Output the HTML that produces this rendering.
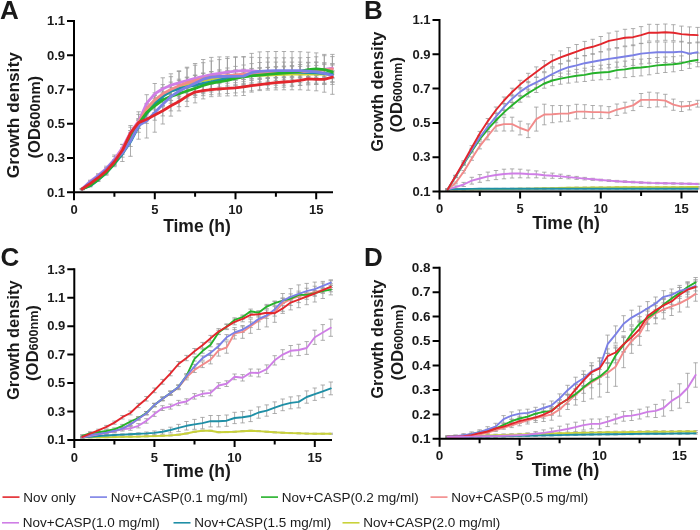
<!DOCTYPE html>
<html><head><meta charset="utf-8"><style>
html,body{margin:0;padding:0;background:#fff;width:700px;height:530px;overflow:hidden}
svg{display:block;will-change:transform}
.t{font-family:"Liberation Sans",sans-serif;font-weight:bold;fill:#1a1a1a}
.r{font-family:"Liberation Sans",sans-serif;fill:#1a1a1a}
</style></head><body>
<svg width="700" height="530" viewBox="0 0 700 530">
<text class="t" x="0" y="0"></text>
<g stroke="#999" stroke-width="0.8" fill="none"><path d="M82.1 188.5V189.6M79.9 188.5H84.3M79.9 189.6H84.3"/><path d="M90.2 184.2V185.7M88.0 184.2H92.4M88.0 185.7H92.4"/><path d="M98.2 177.9V179.9M96.0 177.9H100.4M96.0 179.9H100.4"/><path d="M106.3 170.9V173.3M104.1 170.9H108.5M104.1 173.3H108.5"/><path d="M114.4 161.5V164.5M112.2 161.5H116.6M112.2 164.5H116.6"/><path d="M122.4 149.8V153.2M120.2 149.8H124.6M120.2 153.2H124.6"/><path d="M130.5 132.8V137.1M128.3 132.8H132.7M128.3 137.1H132.7"/><path d="M138.6 120.4V125.5M136.4 120.4H140.8M136.4 125.5H140.8"/><path d="M146.7 107.1V113.1M144.5 107.1H148.9M144.5 113.1H148.9"/><path d="M154.8 98.1V104.9M152.6 98.1H156.9M152.6 104.9H156.9"/><path d="M162.8 92.1V98.9M160.6 92.1H165.0M160.6 98.9H165.0"/><path d="M170.9 87.8V94.7M168.7 87.8H173.1M168.7 94.7H173.1"/><path d="M179.0 84.4V91.2M176.8 84.4H181.2M176.8 91.2H181.2"/><path d="M187.0 81.5V88.3M184.8 81.5H189.2M184.8 88.3H189.2"/><path d="M195.1 79.0V85.9M192.9 79.0H197.3M192.9 85.9H197.3"/><path d="M203.2 77.1V83.9M201.0 77.1H205.4M201.0 83.9H205.4"/><path d="M211.3 75.6V82.5M209.1 75.6H213.5M209.1 82.5H213.5"/><path d="M219.3 74.7V81.5M217.2 74.7H221.5M217.2 81.5H221.5"/><path d="M227.4 73.9V80.7M225.2 73.9H229.6M225.2 80.7H229.6"/><path d="M235.5 73.2V80.1M233.3 73.2H237.7M233.3 80.1H237.7"/><path d="M243.6 72.7V79.6M241.4 72.7H245.8M241.4 79.6H245.8"/><path d="M251.6 72.2V79.1M249.4 72.2H253.8M249.4 79.1H253.8"/><path d="M259.7 71.9V78.7M257.5 71.9H261.9M257.5 78.7H261.9"/><path d="M267.8 71.5V78.4M265.6 71.5H270.0M265.6 78.4H270.0"/><path d="M275.9 71.2V78.1M273.7 71.2H278.1M273.7 78.1H278.1"/><path d="M283.9 71.0V77.8M281.8 71.0H286.1M281.8 77.8H286.1"/><path d="M292.0 70.8V77.6M289.8 70.8H294.2M289.8 77.6H294.2"/><path d="M300.1 70.7V77.5M297.9 70.7H302.3M297.9 77.5H302.3"/><path d="M308.2 70.7V77.5M306.0 70.7H310.4M306.0 77.5H310.4"/><path d="M316.2 70.7V77.5M314.1 70.7H318.4M314.1 77.5H318.4"/><path d="M324.3 70.7V77.5M322.1 70.7H326.5M322.1 77.5H326.5"/><path d="M332.4 70.7V77.5M330.2 70.7H334.6M330.2 77.5H334.6"/><path d="M82.1 188.5V189.6M79.9 188.5H84.3M79.9 189.6H84.3"/><path d="M90.2 184.7V186.9M88.0 184.7H92.4M88.0 186.9H92.4"/><path d="M98.2 178.1V181.5M96.0 178.1H100.4M96.0 181.5H100.4"/><path d="M106.3 170.7V175.2M104.1 170.7H108.5M104.1 175.2H108.5"/><path d="M114.4 161.0V166.7M112.2 161.0H116.6M112.2 166.7H116.6"/><path d="M122.4 150.3V157.2M120.2 150.3H124.6M120.2 157.2H124.6"/><path d="M130.5 137.1V146.5M128.3 137.1H132.7M128.3 146.5H132.7"/><path d="M138.6 120.4V132.3M136.4 120.4H140.8M136.4 132.3H140.8"/><path d="M146.7 106.2V120.8M144.5 106.2H148.9M144.5 120.8H148.9"/><path d="M154.8 95.5V112.6M152.6 95.5H156.9M152.6 112.6H156.9"/><path d="M162.8 87.5V105.2M160.6 87.5H165.0M160.6 105.2H165.0"/><path d="M170.9 82.1V100.4M168.7 82.1H173.1M168.7 100.4H173.1"/><path d="M179.0 79.2V98.1M176.8 79.2H181.2M176.8 98.1H181.2"/><path d="M187.0 77.1V96.5M184.8 77.1H189.2M184.8 96.5H189.2"/><path d="M195.1 75.1V95.1M192.9 75.1H197.3M192.9 95.1H197.3"/><path d="M203.2 73.1V93.7M201.0 73.1H205.4M201.0 93.7H205.4"/><path d="M211.3 71.5V92.0M209.1 71.5H213.5M209.1 92.0H213.5"/><path d="M219.3 69.8V90.3M217.2 69.8H221.5M217.2 90.3H221.5"/><path d="M227.4 68.0V88.5M225.2 68.0H229.6M225.2 88.5H229.6"/><path d="M235.5 66.4V87.0M233.3 66.4H237.7M233.3 87.0H237.7"/><path d="M243.6 65.0V85.5M241.4 65.0H245.8M241.4 85.5H245.8"/><path d="M251.6 63.6V84.1M249.4 63.6H253.8M249.4 84.1H253.8"/><path d="M259.7 62.5V83.1M257.5 62.5H261.9M257.5 83.1H261.9"/><path d="M267.8 62.1V82.7M265.6 62.1H270.0M265.6 82.7H270.0"/><path d="M275.9 62.1V82.7M273.7 62.1H278.1M273.7 82.7H278.1"/><path d="M283.9 62.1V82.7M281.8 62.1H286.1M281.8 82.7H286.1"/><path d="M292.0 62.1V82.7M289.8 62.1H294.2M289.8 82.7H294.2"/><path d="M300.1 62.1V82.7M297.9 62.1H302.3M297.9 82.7H302.3"/><path d="M308.2 62.3V82.8M306.0 62.3H310.4M306.0 82.8H310.4"/><path d="M316.2 62.6V83.2M314.1 62.6H318.4M314.1 83.2H318.4"/><path d="M324.3 63.2V83.8M322.1 63.2H326.5M322.1 83.8H326.5"/><path d="M332.4 63.8V84.4M330.2 63.8H334.6M330.2 84.4H334.6"/><path d="M82.1 188.5V189.6M79.9 188.5H84.3M79.9 189.6H84.3"/><path d="M90.2 180.2V182.4M88.0 180.2H92.4M88.0 182.4H92.4"/><path d="M98.2 173.7V177.0M96.0 173.7H100.4M96.0 177.0H100.4"/><path d="M106.3 166.2V170.8M104.1 166.2H108.5M104.1 170.8H108.5"/><path d="M114.4 156.6V162.3M112.2 156.6H116.6M112.2 162.3H116.6"/><path d="M122.4 144.5V151.4M120.2 144.5H124.6M120.2 151.4H124.6"/><path d="M130.5 127.2V137.5M128.3 127.2H132.7M128.3 137.5H132.7"/><path d="M138.6 114.4V128.1M136.4 114.4H140.8M136.4 128.1H140.8"/><path d="M146.7 94.7V111.8M144.5 94.7H148.9M144.5 111.8H148.9"/><path d="M154.8 83.5V104.1M152.6 83.5H156.9M152.6 104.1H156.9"/><path d="M162.8 77.8V99.5M160.6 77.8H165.0M160.6 99.5H165.0"/><path d="M170.9 73.8V96.7M168.7 73.8H173.1M168.7 96.7H173.1"/><path d="M179.0 70.8V94.8M176.8 70.8H181.2M176.8 94.8H181.2"/><path d="M187.0 68.0V93.1M184.8 68.0H189.2M184.8 93.1H189.2"/><path d="M195.1 65.2V91.5M192.9 65.2H197.3M192.9 91.5H197.3"/><path d="M203.2 62.7V90.1M201.0 62.7H205.4M201.0 90.1H205.4"/><path d="M211.3 61.0V88.4M209.1 61.0H213.5M209.1 88.4H213.5"/><path d="M219.3 59.6V87.0M217.2 59.6H221.5M217.2 87.0H221.5"/><path d="M227.4 58.5V85.9M225.2 58.5H229.6M225.2 85.9H229.6"/><path d="M235.5 57.3V84.8M233.3 57.3H237.7M233.3 84.8H237.7"/><path d="M243.6 57.0V84.4M241.4 57.0H245.8M241.4 84.4H245.8"/><path d="M251.6 57.3V84.7M249.4 57.3H253.8M249.4 84.7H253.8"/><path d="M259.7 57.6V85.0M257.5 57.6H261.9M257.5 85.0H261.9"/><path d="M267.8 57.8V85.2M265.6 57.8H270.0M265.6 85.2H270.0"/><path d="M275.9 57.8V85.2M273.7 57.8H278.1M273.7 85.2H278.1"/><path d="M283.9 57.8V85.2M281.8 57.8H286.1M281.8 85.2H286.1"/><path d="M292.0 57.8V85.2M289.8 57.8H294.2M289.8 85.2H294.2"/><path d="M300.1 57.8V85.2M297.9 57.8H302.3M297.9 85.2H302.3"/><path d="M308.2 57.5V84.9M306.0 57.5H310.4M306.0 84.9H310.4"/><path d="M316.2 56.8V84.2M314.1 56.8H318.4M314.1 84.2H318.4"/><path d="M324.3 55.7V83.1M322.1 55.7H326.5M322.1 83.1H326.5"/><path d="M332.4 54.4V81.8M330.2 54.4H334.6M330.2 81.8H334.6"/><path d="M82.1 188.5V189.6M79.9 188.5H84.3M79.9 189.6H84.3"/><path d="M90.2 182.1V183.6M88.0 182.1H92.4M88.0 183.6H92.4"/><path d="M98.2 175.9V177.9M96.0 175.9H100.4M96.0 177.9H100.4"/><path d="M106.3 168.8V171.3M104.1 168.8H108.5M104.1 171.3H108.5"/><path d="M114.4 159.5V162.4M112.2 159.5H116.6M112.2 162.4H116.6"/><path d="M122.4 147.8V151.2M120.2 147.8H124.6M120.2 151.2H124.6"/><path d="M130.5 130.6V135.8M128.3 130.6H132.7M128.3 135.8H132.7"/><path d="M138.6 118.6V125.5M136.4 118.6H140.8M136.4 125.5H140.8"/><path d="M146.7 104.1V112.6M144.5 104.1H148.9M144.5 112.6H148.9"/><path d="M154.8 94.7V104.9M152.6 94.7H156.9M152.6 104.9H156.9"/><path d="M162.8 88.7V98.9M160.6 88.7H165.0M160.6 98.9H165.0"/><path d="M170.9 84.4V94.7M168.7 84.4H173.1M168.7 94.7H173.1"/><path d="M179.0 80.6V90.9M176.8 80.6H181.2M176.8 90.9H181.2"/><path d="M187.0 77.8V88.0M184.8 77.8H189.2M184.8 88.0H189.2"/><path d="M195.1 75.4V85.7M192.9 75.4H197.3M192.9 85.7H197.3"/><path d="M203.2 73.3V83.6M201.0 73.3H205.4M201.0 83.6H205.4"/><path d="M211.3 71.9V82.2M209.1 71.9H213.5M209.1 82.2H213.5"/><path d="M219.3 71.1V81.3M217.2 71.1H221.5M217.2 81.3H221.5"/><path d="M227.4 70.4V80.7M225.2 70.4H229.6M225.2 80.7H229.6"/><path d="M235.5 69.8V80.1M233.3 69.8H237.7M233.3 80.1H237.7"/><path d="M243.6 69.1V79.4M241.4 69.1H245.8M241.4 79.4H245.8"/><path d="M251.6 68.4V78.6M249.4 68.4H253.8M249.4 78.6H253.8"/><path d="M259.7 67.7V78.0M257.5 67.7H261.9M257.5 78.0H261.9"/><path d="M267.8 67.3V77.5M265.6 67.3H270.0M265.6 77.5H270.0"/><path d="M275.9 67.0V77.3M273.7 67.0H278.1M273.7 77.3H278.1"/><path d="M283.9 66.8V77.1M281.8 66.8H286.1M281.8 77.1H286.1"/><path d="M292.0 66.6V76.9M289.8 66.6H294.2M289.8 76.9H294.2"/><path d="M300.1 66.4V76.7M297.9 66.4H302.3M297.9 76.7H302.3"/><path d="M308.2 66.0V76.3M306.0 66.0H310.4M306.0 76.3H310.4"/><path d="M316.2 65.4V75.7M314.1 65.4H318.4M314.1 75.7H318.4"/><path d="M324.3 64.6V74.9M322.1 64.6H326.5M322.1 74.9H326.5"/><path d="M332.4 63.8V74.1M330.2 63.8H334.6M330.2 74.1H334.6"/><path d="M82.1 188.5V189.6M79.9 188.5H84.3M79.9 189.6H84.3"/><path d="M90.2 184.5V186.4M88.0 184.5H92.4M88.0 186.4H92.4"/><path d="M98.2 178.1V180.8M96.0 178.1H100.4M96.0 180.8H100.4"/><path d="M106.3 170.9V174.3M104.1 170.9H108.5M104.1 174.3H108.5"/><path d="M114.4 161.4V165.7M112.2 161.4H116.6M112.2 165.7H116.6"/><path d="M122.4 149.5V154.6M120.2 149.5H124.6M120.2 154.6H124.6"/><path d="M130.5 133.0V140.3M128.3 133.0H132.7M128.3 140.3H132.7"/><path d="M138.6 119.1V128.5M136.4 119.1H140.8M136.4 128.5H140.8"/><path d="M146.7 106.7V118.3M144.5 106.7H148.9M144.5 118.3H148.9"/><path d="M154.8 98.9V112.6M152.6 98.9H156.9M152.6 112.6H156.9"/><path d="M162.8 93.1V106.8M160.6 93.1H165.0M160.6 106.8H165.0"/><path d="M170.9 89.5V103.2M168.7 89.5H173.1M168.7 103.2H173.1"/><path d="M179.0 86.8V100.5M176.8 86.8H181.2M176.8 100.5H181.2"/><path d="M187.0 84.2V97.9M184.8 84.2H189.2M184.8 97.9H189.2"/><path d="M195.1 81.5V95.2M192.9 81.5H197.3M192.9 95.2H197.3"/><path d="M203.2 78.7V92.4M201.0 78.7H205.4M201.0 92.4H205.4"/><path d="M211.3 76.4V90.1M209.1 76.4H213.5M209.1 90.1H213.5"/><path d="M219.3 75.0V88.7M217.2 75.0H221.5M217.2 88.7H221.5"/><path d="M227.4 73.6V87.3M225.2 73.6H229.6M225.2 87.3H229.6"/><path d="M235.5 71.6V85.3M233.3 71.6H237.7M233.3 85.3H237.7"/><path d="M243.6 70.0V83.7M241.4 70.0H245.8M241.4 83.7H245.8"/><path d="M251.6 69.1V82.8M249.4 69.1H253.8M249.4 82.8H253.8"/><path d="M259.7 68.2V81.9M257.5 68.2H261.9M257.5 81.9H261.9"/><path d="M267.8 67.5V81.2M265.6 67.5H270.0M265.6 81.2H270.0"/><path d="M275.9 66.7V80.4M273.7 66.7H278.1M273.7 80.4H278.1"/><path d="M283.9 66.1V79.8M281.8 66.1H286.1M281.8 79.8H286.1"/><path d="M292.0 65.5V79.2M289.8 65.5H294.2M289.8 79.2H294.2"/><path d="M300.1 64.5V78.2M297.9 64.5H302.3M297.9 78.2H302.3"/><path d="M308.2 62.8V76.5M306.0 62.8H310.4M306.0 76.5H310.4"/><path d="M316.2 61.9V75.7M314.1 61.9H318.4M314.1 75.7H318.4"/><path d="M324.3 62.8V76.5M322.1 62.8H326.5M322.1 76.5H326.5"/><path d="M332.4 65.0V78.7M330.2 65.0H334.6M330.2 78.7H334.6"/><path d="M82.1 188.4V189.7M79.9 188.4H84.3M79.9 189.7H84.3"/><path d="M90.2 181.0V183.0M88.0 181.0H92.4M88.0 183.0H92.4"/><path d="M98.2 174.7V177.4M96.0 174.7H100.4M96.0 177.4H100.4"/><path d="M106.3 167.5V170.9M104.1 167.5H108.5M104.1 170.9H108.5"/><path d="M114.4 155.0V165.2M112.2 155.0H116.6M112.2 165.2H116.6"/><path d="M122.4 144.3V161.5M120.2 144.3H124.6M120.2 161.5H124.6"/><path d="M130.5 125.5V156.3M128.3 125.5H132.7M128.3 156.3H132.7"/><path d="M138.6 111.8V139.2M136.4 111.8H140.8M136.4 139.2H140.8"/><path d="M146.7 103.7V138.0M144.5 103.7H148.9M144.5 138.0H148.9"/><path d="M154.8 92.8V132.2M152.6 92.8H156.9M152.6 132.2H156.9"/><path d="M162.8 84.6V124.0M160.6 84.6H165.0M160.6 124.0H165.0"/><path d="M170.9 76.7V116.1M168.7 76.7H173.1M168.7 116.1H173.1"/><path d="M179.0 71.5V110.9M176.8 71.5H181.2M176.8 110.9H181.2"/><path d="M187.0 67.2V106.6M184.8 67.2H189.2M184.8 106.6H189.2"/><path d="M195.1 63.5V102.9M192.9 63.5H197.3M192.9 102.9H197.3"/><path d="M203.2 59.5V98.9M201.0 59.5H205.4M201.0 98.9H205.4"/><path d="M211.3 57.4V96.7M209.1 57.4H213.5M209.1 96.7H213.5"/><path d="M219.3 56.9V96.1M217.2 56.9H221.5M217.2 96.1H221.5"/><path d="M227.4 56.8V95.9M225.2 56.8H229.6M225.2 95.9H229.6"/><path d="M235.5 56.8V95.8M233.3 56.8H237.7M233.3 95.8H237.7"/><path d="M243.6 56.6V95.5M241.4 56.6H245.8M241.4 95.5H245.8"/><path d="M251.6 53.4V92.1M249.4 53.4H253.8M249.4 92.1H253.8"/><path d="M259.7 51.9V90.6M257.5 51.9H261.9M257.5 90.6H261.9"/><path d="M267.8 51.6V90.1M265.6 51.6H270.0M265.6 90.1H270.0"/><path d="M275.9 51.5V89.9M273.7 51.5H278.1M273.7 89.9H278.1"/><path d="M283.9 51.5V89.8M281.8 51.5H286.1M281.8 89.8H286.1"/><path d="M292.0 51.6V89.8M289.8 51.6H294.2M289.8 89.8H294.2"/><path d="M300.1 51.7V89.8M297.9 51.7H302.3M297.9 89.8H302.3"/><path d="M308.2 52.2V90.2M306.0 52.2H310.4M306.0 90.2H310.4"/><path d="M316.2 52.9V90.8M314.1 52.9H318.4M314.1 90.8H318.4"/><path d="M324.3 54.4V92.2M322.1 54.4H326.5M322.1 92.2H326.5"/><path d="M332.4 56.6V94.3M330.2 56.6H334.6M330.2 94.3H334.6"/><path d="M82.1 188.5V189.6M79.9 188.5H84.3M79.9 189.6H84.3"/><path d="M90.2 183.0V184.5M88.0 183.0H92.4M88.0 184.5H92.4"/><path d="M98.2 176.7V178.7M96.0 176.7H100.4M96.0 178.7H100.4"/><path d="M106.3 169.7V172.1M104.1 169.7H108.5M104.1 172.1H108.5"/><path d="M114.4 160.3V163.3M112.2 160.3H116.6M112.2 163.3H116.6"/><path d="M122.4 148.6V152.0M120.2 148.6H124.6M120.2 152.0H124.6"/><path d="M130.5 130.6V135.8M128.3 130.6H132.7M128.3 135.8H132.7"/><path d="M138.6 119.2V126.0M136.4 119.2H140.8M136.4 126.0H140.8"/><path d="M146.7 114.9V123.4M144.5 114.9H148.9M144.5 123.4H148.9"/><path d="M154.8 109.9V120.2M152.6 109.9H156.9M152.6 120.2H156.9"/><path d="M162.8 105.6V115.9M160.6 105.6H165.0M160.6 115.9H165.0"/><path d="M170.9 100.7V110.9M168.7 100.7H173.1M168.7 110.9H173.1"/><path d="M179.0 96.4V106.7M176.8 96.4H181.2M176.8 106.7H181.2"/><path d="M187.0 91.0V101.3M184.8 91.0H189.2M184.8 101.3H189.2"/><path d="M195.1 87.0V97.3M192.9 87.0H197.3M192.9 97.3H197.3"/><path d="M203.2 85.4V95.7M201.0 85.4H205.4M201.0 95.7H205.4"/><path d="M211.3 84.4V94.7M209.1 84.4H213.5M209.1 94.7H213.5"/><path d="M219.3 83.7V94.0M217.2 83.7H221.5M217.2 94.0H221.5"/><path d="M227.4 83.2V93.5M225.2 83.2H229.6M225.2 93.5H229.6"/><path d="M235.5 82.7V92.9M233.3 82.7H237.7M233.3 92.9H237.7"/><path d="M243.6 81.7V92.0M241.4 81.7H245.8M241.4 92.0H245.8"/><path d="M251.6 80.5V90.8M249.4 80.5H253.8M249.4 90.8H253.8"/><path d="M259.7 79.5V89.7M257.5 79.5H261.9M257.5 89.7H261.9"/><path d="M267.8 78.4V88.7M265.6 78.4H270.0M265.6 88.7H270.0"/><path d="M275.9 77.5V87.8M273.7 77.5H278.1M273.7 87.8H278.1"/><path d="M283.9 76.9V87.2M281.8 76.9H286.1M281.8 87.2H286.1"/><path d="M292.0 76.3V86.6M289.8 76.3H294.2M289.8 86.6H294.2"/><path d="M300.1 75.2V85.5M297.9 75.2H302.3M297.9 85.5H302.3"/><path d="M308.2 73.8V84.0M306.0 73.8H310.4M306.0 84.0H310.4"/><path d="M316.2 74.2V84.5M314.1 74.2H318.4M314.1 84.5H318.4"/><path d="M324.3 74.2V84.5M322.1 74.2H326.5M322.1 84.5H326.5"/><path d="M332.4 72.0V82.3M330.2 72.0H334.6M330.2 82.3H334.6"/></g>
<path d="M82.1 189.0 L90.2 184.9 L98.2 178.9 L106.3 172.1 L114.4 163.0 L122.4 151.5 L130.5 134.9 L138.6 122.9 L146.7 110.1 L154.8 101.5 L162.8 95.5 L170.9 91.2 L179.0 87.8 L187.0 84.9 L195.1 82.5 L203.2 80.5 L211.3 79.1 L219.3 78.1 L227.4 77.3 L235.5 76.7 L243.6 76.1 L251.6 75.7 L259.7 75.3 L267.8 75.0 L275.9 74.7 L283.9 74.4 L292.0 74.2 L300.1 74.1 L308.2 74.1 L316.2 74.1 L324.3 74.1 L332.4 74.1" stroke="#c9d23a" stroke-width="2.8" fill="none" stroke-linejoin="round" stroke-linecap="round"/>
<path d="M82.1 189.0 L90.2 185.8 L98.2 179.8 L106.3 172.9 L114.4 163.9 L122.4 153.8 L130.5 141.8 L138.6 126.3 L146.7 113.5 L154.8 104.1 L162.8 96.4 L170.9 91.2 L179.0 88.7 L187.0 86.8 L195.1 85.1 L203.2 83.4 L211.3 81.8 L219.3 80.0 L227.4 78.2 L235.5 76.7 L243.6 75.3 L251.6 73.9 L259.7 72.8 L267.8 72.4 L275.9 72.4 L283.9 72.4 L292.0 72.4 L300.1 72.4 L308.2 72.5 L316.2 72.9 L324.3 73.5 L332.4 74.1" stroke="#1f8fa6" stroke-width="2.8" fill="none" stroke-linejoin="round" stroke-linecap="round"/>
<path d="M82.1 189.0 L90.2 181.3 L98.2 175.3 L106.3 168.5 L114.4 159.4 L122.4 147.9 L130.5 132.3 L138.6 121.2 L146.7 103.2 L154.8 93.8 L162.8 88.7 L170.9 85.2 L179.0 82.8 L187.0 80.5 L195.1 78.4 L203.2 76.4 L211.3 74.7 L219.3 73.3 L227.4 72.2 L235.5 71.1 L243.6 70.7 L251.6 71.0 L259.7 71.3 L267.8 71.5 L275.9 71.5 L283.9 71.5 L292.0 71.5 L300.1 71.5 L308.2 71.2 L316.2 70.5 L324.3 69.4 L332.4 68.1" stroke="#cf7ee6" stroke-width="2.8" fill="none" stroke-linejoin="round" stroke-linecap="round"/>
<path d="M82.1 189.0 L90.2 182.9 L98.2 176.9 L106.3 170.0 L114.4 161.0 L122.4 149.5 L130.5 133.2 L138.6 122.1 L146.7 108.4 L154.8 99.8 L162.8 93.8 L170.9 89.5 L179.0 85.8 L187.0 82.9 L195.1 80.6 L203.2 78.5 L211.3 77.0 L219.3 76.2 L227.4 75.6 L235.5 75.0 L243.6 74.2 L251.6 73.5 L259.7 72.8 L267.8 72.4 L275.9 72.1 L283.9 72.0 L292.0 71.8 L300.1 71.5 L308.2 71.1 L316.2 70.5 L324.3 69.8 L332.4 69.0" stroke="#f28a8a" stroke-width="2.8" fill="none" stroke-linejoin="round" stroke-linecap="round"/>
<path d="M82.1 189.0 L90.2 185.4 L98.2 179.5 L106.3 172.6 L114.4 163.5 L122.4 152.0 L130.5 136.6 L138.6 123.8 L146.7 112.5 L154.8 105.8 L162.8 100.0 L170.9 96.4 L179.0 93.6 L187.0 91.0 L195.1 88.4 L203.2 85.5 L211.3 83.2 L219.3 81.9 L227.4 80.4 L235.5 78.4 L243.6 76.9 L251.6 75.9 L259.7 75.1 L267.8 74.3 L275.9 73.6 L283.9 73.0 L292.0 72.3 L300.1 71.4 L308.2 69.6 L316.2 68.8 L324.3 69.7 L332.4 71.9" stroke="#25b22a" stroke-width="2.8" fill="none" stroke-linejoin="round" stroke-linecap="round"/>
<path d="M82.1 189.0 L90.2 182.0 L98.2 176.0 L106.3 169.2 L114.4 160.1 L122.4 152.9 L130.5 140.9 L138.6 125.5 L146.7 120.9 L154.8 112.5 L162.8 104.3 L170.9 96.4 L179.0 91.2 L187.0 86.9 L195.1 83.2 L203.2 79.2 L211.3 77.1 L219.3 76.5 L227.4 76.3 L235.5 76.3 L243.6 76.1 L251.6 72.7 L259.7 71.3 L267.8 70.8 L275.9 70.7 L283.9 70.7 L292.0 70.7 L300.1 70.7 L308.2 71.2 L316.2 71.9 L324.3 73.3 L332.4 75.5" stroke="#7b80e6" stroke-width="2.8" fill="none" stroke-linejoin="round" stroke-linecap="round"/>
<path d="M82.1 189.0 L90.2 183.7 L98.2 177.7 L106.3 170.9 L114.4 161.8 L122.4 150.3 L130.5 133.2 L138.6 122.6 L146.7 119.2 L154.8 115.0 L162.8 110.8 L170.9 105.8 L179.0 101.5 L187.0 96.1 L195.1 92.1 L203.2 90.6 L211.3 89.6 L219.3 88.8 L227.4 88.4 L235.5 87.8 L243.6 86.8 L251.6 85.7 L259.7 84.6 L267.8 83.6 L275.9 82.7 L283.9 82.0 L292.0 81.4 L300.1 80.4 L308.2 78.9 L316.2 79.4 L324.3 79.3 L332.4 77.2" stroke="#e3262c" stroke-width="2.8" fill="none" stroke-linejoin="round" stroke-linecap="round"/>
<path d="M74.0 20.0V200.3M73.0 192.3H333.0" stroke="#000" stroke-width="2" fill="none"/>
<path d="M67.0 192.3H74.0M67.0 158.0H74.0M67.0 123.8H74.0M67.0 89.5H74.0M67.0 55.3H74.0M67.0 21.0H74.0M154.8 192.3V199.3M235.5 192.3V199.3M316.2 192.3V199.3M114.4 192.3V196.8M195.1 192.3V196.8M275.9 192.3V196.8" stroke="#000" stroke-width="2" fill="none"/>
<text x="65.0" y="196.5" text-anchor="end" class="t" font-size="13">0.1</text>
<text x="65.0" y="162.2" text-anchor="end" class="t" font-size="13">0.3</text>
<text x="65.0" y="128.0" text-anchor="end" class="t" font-size="13">0.5</text>
<text x="65.0" y="93.7" text-anchor="end" class="t" font-size="13">0.7</text>
<text x="65.0" y="59.5" text-anchor="end" class="t" font-size="13">0.9</text>
<text x="65.0" y="25.2" text-anchor="end" class="t" font-size="13">1.1</text>
<text x="74.0" y="213.8" text-anchor="middle" class="t" font-size="13">0</text>
<text x="154.8" y="213.8" text-anchor="middle" class="t" font-size="13">5</text>
<text x="235.5" y="213.8" text-anchor="middle" class="t" font-size="13">10</text>
<text x="316.2" y="213.8" text-anchor="middle" class="t" font-size="13">15</text>
<text x="197.0" y="232.2" text-anchor="middle" class="t" font-size="17.5">Time (h)</text>
<text transform="translate(19.2,115.2) rotate(-90)" text-anchor="middle" class="t" font-size="16.5" textLength="126" lengthAdjust="spacingAndGlyphs">Growth density</text>
<text transform="translate(39.8,117.2) rotate(-90)" text-anchor="middle" class="t" font-size="16.3" textLength="82.7" lengthAdjust="spacingAndGlyphs">(OD<tspan font-size="14.3">600nm</tspan>)</text>
<text x="0" y="18.8" class="t" font-size="26">A</text>
<g stroke="#999" stroke-width="0.8" fill="none"><path d="M447.6 188.9V190.0M445.4 188.9H449.8M445.4 190.0H449.8"/><path d="M455.6 188.9V189.9M453.4 188.9H457.8M453.4 189.9H457.8"/><path d="M463.7 188.8V189.9M461.5 188.8H465.9M461.5 189.9H465.9"/><path d="M471.8 188.8V189.8M469.6 188.8H474.0M469.6 189.8H474.0"/><path d="M479.8 188.7V189.7M477.6 188.7H482.0M477.6 189.7H482.0"/><path d="M487.9 188.6V189.6M485.7 188.6H490.1M485.7 189.6H490.1"/><path d="M496.0 188.5V189.6M493.8 188.5H498.2M493.8 189.6H498.2"/><path d="M504.0 188.4V189.5M501.8 188.4H506.2M501.8 189.5H506.2"/><path d="M512.1 188.3V189.4M509.9 188.3H514.3M509.9 189.4H514.3"/><path d="M520.1 188.2V189.3M517.9 188.2H522.4M517.9 189.3H522.4"/><path d="M528.2 188.1V189.1M526.0 188.1H530.4M526.0 189.1H530.4"/><path d="M536.3 188.0V189.0M534.1 188.0H538.5M534.1 189.0H538.5"/><path d="M544.3 187.8V188.8M542.1 187.8H546.5M542.1 188.8H546.5"/><path d="M552.4 187.6V188.6M550.2 187.6H554.6M550.2 188.6H554.6"/><path d="M560.5 187.4V188.5M558.3 187.4H562.7M558.3 188.5H562.7"/><path d="M568.5 187.3V188.3M566.3 187.3H570.7M566.3 188.3H570.7"/><path d="M576.6 187.1V188.2M574.4 187.1H578.8M574.4 188.2H578.8"/><path d="M584.7 187.0V188.1M582.5 187.0H586.9M582.5 188.1H586.9"/><path d="M592.7 187.0V188.0M590.5 187.0H594.9M590.5 188.0H594.9"/><path d="M600.8 186.9V187.9M598.6 186.9H603.0M598.6 187.9H603.0"/><path d="M608.9 186.9V187.9M606.7 186.9H611.1M606.7 187.9H611.1"/><path d="M616.9 186.8V187.8M614.7 186.8H619.1M614.7 187.8H619.1"/><path d="M625.0 186.8V187.8M622.8 186.8H627.2M622.8 187.8H627.2"/><path d="M633.1 186.7V187.7M630.9 186.7H635.3M630.9 187.7H635.3"/><path d="M641.1 186.7V187.7M638.9 186.7H643.3M638.9 187.7H643.3"/><path d="M649.2 186.6V187.7M647.0 186.6H651.4M647.0 187.7H651.4"/><path d="M657.3 186.6V187.6M655.1 186.6H659.5M655.1 187.6H659.5"/><path d="M665.3 186.6V187.6M663.1 186.6H667.5M663.1 187.6H667.5"/><path d="M673.4 186.6V187.6M671.2 186.6H675.6M671.2 187.6H675.6"/><path d="M681.5 186.5V187.6M679.2 186.5H683.7M679.2 187.6H683.7"/><path d="M689.5 186.5V187.6M687.3 186.5H691.7M687.3 187.6H691.7"/><path d="M697.6 186.5V187.6M695.4 186.5H699.8M695.4 187.6H699.8"/><path d="M447.6 188.9V189.6M445.4 188.9H449.8M445.4 189.6H449.8"/><path d="M455.6 188.8V189.5M453.4 188.8H457.8M453.4 189.5H457.8"/><path d="M463.7 188.7V189.3M461.5 188.7H465.9M461.5 189.3H465.9"/><path d="M471.8 188.5V189.2M469.6 188.5H474.0M469.6 189.2H474.0"/><path d="M479.8 188.4V189.1M477.6 188.4H482.0M477.6 189.1H482.0"/><path d="M487.9 188.4V189.1M485.7 188.4H490.1M485.7 189.1H490.1"/><path d="M496.0 188.4V189.1M493.8 188.4H498.2M493.8 189.1H498.2"/><path d="M504.0 188.4V189.1M501.8 188.4H506.2M501.8 189.1H506.2"/><path d="M512.1 188.4V189.1M509.9 188.4H514.3M509.9 189.1H514.3"/><path d="M520.1 188.4V189.1M517.9 188.4H522.4M517.9 189.1H522.4"/><path d="M528.2 188.4V189.1M526.0 188.4H530.4M526.0 189.1H530.4"/><path d="M536.3 188.4V189.1M534.1 188.4H538.5M534.1 189.1H538.5"/><path d="M544.3 188.4V189.1M542.1 188.4H546.5M542.1 189.1H546.5"/><path d="M552.4 188.4V189.1M550.2 188.4H554.6M550.2 189.1H554.6"/><path d="M560.5 188.4V189.1M558.3 188.4H562.7M558.3 189.1H562.7"/><path d="M568.5 188.4V189.1M566.3 188.4H570.7M566.3 189.1H570.7"/><path d="M576.6 188.4V189.1M574.4 188.4H578.8M574.4 189.1H578.8"/><path d="M584.7 188.4V189.1M582.5 188.4H586.9M582.5 189.1H586.9"/><path d="M592.7 188.4V189.1M590.5 188.4H594.9M590.5 189.1H594.9"/><path d="M600.8 188.4V189.1M598.6 188.4H603.0M598.6 189.1H603.0"/><path d="M608.9 188.4V189.1M606.7 188.4H611.1M606.7 189.1H611.1"/><path d="M616.9 188.4V189.1M614.7 188.4H619.1M614.7 189.1H619.1"/><path d="M625.0 188.4V189.1M622.8 188.4H627.2M622.8 189.1H627.2"/><path d="M633.1 188.4V189.1M630.9 188.4H635.3M630.9 189.1H635.3"/><path d="M641.1 188.4V189.1M638.9 188.4H643.3M638.9 189.1H643.3"/><path d="M649.2 188.4V189.1M647.0 188.4H651.4M647.0 189.1H651.4"/><path d="M657.3 188.4V189.1M655.1 188.4H659.5M655.1 189.1H659.5"/><path d="M665.3 188.4V189.1M663.1 188.4H667.5M663.1 189.1H667.5"/><path d="M673.4 188.4V189.1M671.2 188.4H675.6M671.2 189.1H675.6"/><path d="M681.5 188.4V189.1M679.2 188.4H683.7M679.2 189.1H683.7"/><path d="M689.5 188.4V189.1M687.3 188.4H691.7M687.3 189.1H691.7"/><path d="M697.6 188.4V189.1M695.4 188.4H699.8M695.4 189.1H699.8"/><path d="M447.6 188.9V190.0M445.4 188.9H449.8M445.4 190.0H449.8"/><path d="M455.6 185.9V188.5M453.4 185.9H457.8M453.4 188.5H457.8"/><path d="M463.7 182.4V186.5M461.5 182.4H465.9M461.5 186.5H465.9"/><path d="M471.8 177.3V184.1M469.6 177.3H474.0M469.6 184.1H474.0"/><path d="M479.8 174.6V182.3M477.6 174.6H482.0M477.6 182.3H482.0"/><path d="M487.9 172.1V180.7M485.7 172.1H490.1M485.7 180.7H490.1"/><path d="M496.0 170.5V179.6M493.8 170.5H498.2M493.8 179.6H498.2"/><path d="M504.0 169.2V178.8M501.8 169.2H506.2M501.8 178.8H506.2"/><path d="M512.1 168.9V178.0M509.9 168.9H514.3M509.9 178.0H514.3"/><path d="M520.1 169.2V177.8M517.9 169.2H522.4M517.9 177.8H522.4"/><path d="M528.2 170.1V177.9M526.0 170.1H530.4M526.0 177.9H530.4"/><path d="M536.3 170.9V177.8M534.1 170.9H538.5M534.1 177.8H538.5"/><path d="M544.3 172.2V178.2M542.1 172.2H546.5M542.1 178.2H546.5"/><path d="M552.4 173.1V178.3M550.2 173.1H554.6M550.2 178.3H554.6"/><path d="M560.5 174.2V178.5M558.3 174.2H562.7M558.3 178.5H562.7"/><path d="M568.5 175.4V178.8M566.3 175.4H570.7M566.3 178.8H570.7"/><path d="M576.6 176.4V179.4M574.4 176.4H578.8M574.4 179.4H578.8"/><path d="M584.7 177.4V179.9M582.5 177.4H586.9M582.5 179.9H586.9"/><path d="M592.7 178.3V180.4M590.5 178.3H594.9M590.5 180.4H594.9"/><path d="M600.8 179.2V180.9M598.6 179.2H603.0M598.6 180.9H603.0"/><path d="M608.9 179.8V181.5M606.7 179.8H611.1M606.7 181.5H611.1"/><path d="M616.9 180.4V182.0M614.7 180.4H619.1M614.7 182.0H619.1"/><path d="M625.0 180.8V182.5M622.8 180.8H627.2M622.8 182.5H627.2"/><path d="M633.1 181.3V182.9M630.9 181.3H635.3M630.9 182.9H635.3"/><path d="M641.1 181.8V183.3M638.9 181.8H643.3M638.9 183.3H643.3"/><path d="M649.2 182.2V183.7M647.0 182.2H651.4M647.0 183.7H651.4"/><path d="M657.3 182.4V183.9M655.1 182.4H659.5M655.1 183.9H659.5"/><path d="M665.3 182.5V184.0M663.1 182.5H667.5M663.1 184.0H667.5"/><path d="M673.4 182.7V184.2M671.2 182.7H675.6M671.2 184.2H675.6"/><path d="M681.5 182.9V184.3M679.2 182.9H683.7M679.2 184.3H683.7"/><path d="M689.5 183.1V184.5M687.3 183.1H691.7M687.3 184.5H691.7"/><path d="M697.6 183.3V184.6M695.4 183.3H699.8M695.4 184.6H699.8"/><path d="M447.6 188.9V190.0M445.4 188.9H449.8M445.4 190.0H449.8"/><path d="M455.6 182.0V183.8M453.4 182.0H457.8M453.4 183.8H457.8"/><path d="M463.7 170.5V173.1M461.5 170.5H465.9M461.5 173.1H465.9"/><path d="M471.8 156.9V160.3M469.6 156.9H474.0M469.6 160.3H474.0"/><path d="M479.8 143.2V148.9M477.6 143.2H482.0M477.6 148.9H482.0"/><path d="M487.9 131.8V139.8M485.7 131.8H490.1M485.7 139.8H490.1"/><path d="M496.0 120.8V131.1M493.8 120.8H498.2M493.8 131.1H498.2"/><path d="M504.0 117.2V131.0M501.8 117.2H506.2M501.8 131.0H506.2"/><path d="M512.1 117.2V131.0M509.9 117.2H514.3M509.9 131.0H514.3"/><path d="M520.1 121.2V134.9M517.9 121.2H522.4M517.9 134.9H522.4"/><path d="M528.2 123.9V137.6M526.0 123.9H530.4M526.0 137.6H530.4"/><path d="M536.3 107.1V131.1M534.1 107.1H538.5M534.1 131.1H538.5"/><path d="M544.3 104.2V124.8M542.1 104.2H546.5M542.1 124.8H546.5"/><path d="M552.4 105.6V122.7M550.2 105.6H554.6M550.2 122.7H554.6"/><path d="M560.5 105.5V121.8M558.3 105.5H562.7M558.3 121.8H562.7"/><path d="M568.5 105.7V121.2M566.3 105.7H570.7M566.3 121.2H570.7"/><path d="M576.6 104.3V118.9M574.4 104.3H578.8M574.4 118.9H578.8"/><path d="M584.7 104.7V118.4M582.5 104.7H586.9M582.5 118.4H586.9"/><path d="M592.7 105.5V118.7M590.5 105.5H594.9M590.5 118.7H594.9"/><path d="M600.8 105.8V118.4M598.6 105.8H603.0M598.6 118.4H603.0"/><path d="M608.9 106.6V118.6M606.7 106.6H611.1M606.7 118.6H611.1"/><path d="M616.9 104.0V115.4M614.7 104.0H619.1M614.7 115.4H619.1"/><path d="M625.0 102.2V113.1M622.8 102.2H627.2M622.8 113.1H627.2"/><path d="M633.1 100.3V110.6M630.9 100.3H635.3M630.9 110.6H635.3"/><path d="M641.1 93.5V106.4M638.9 93.5H643.3M638.9 106.4H643.3"/><path d="M649.2 92.2V107.6M647.0 92.2H651.4M647.0 107.6H651.4"/><path d="M657.3 92.9V106.9M655.1 92.9H659.5M655.1 106.9H659.5"/><path d="M665.3 94.3V106.9M663.1 94.3H667.5M663.1 106.9H667.5"/><path d="M673.4 99.1V110.3M671.2 99.1H675.6M671.2 110.3H675.6"/><path d="M681.5 101.7V111.5M679.2 101.7H683.7M679.2 111.5H683.7"/><path d="M689.5 101.6V109.9M687.3 101.6H691.7M687.3 109.9H691.7"/><path d="M697.6 100.3V107.1M695.4 100.3H699.8M695.4 107.1H699.8"/><path d="M447.6 188.9V190.0M445.4 188.9H449.8M445.4 190.0H449.8"/><path d="M455.6 175.8V177.7M453.4 175.8H457.8M453.4 177.7H457.8"/><path d="M463.7 162.7V165.4M461.5 162.7H465.9M461.5 165.4H465.9"/><path d="M471.8 149.4V152.9M469.6 149.4H474.0M469.6 152.9H474.0"/><path d="M479.8 137.3V141.1M477.6 137.3H482.0M477.6 141.1H482.0"/><path d="M487.9 127.0V131.3M485.7 127.0H490.1M485.7 131.3H490.1"/><path d="M496.0 118.0V122.7M493.8 118.0H498.2M493.8 122.7H498.2"/><path d="M504.0 109.8V114.9M501.8 109.8H506.2M501.8 114.9H506.2"/><path d="M512.1 102.2V108.2M509.9 102.2H514.3M509.9 108.2H514.3"/><path d="M520.1 95.4V102.2M517.9 95.4H522.4M517.9 102.2H522.4"/><path d="M528.2 89.2V96.9M526.0 89.2H530.4M526.0 96.9H530.4"/><path d="M536.3 84.0V92.5M534.1 84.0H538.5M534.1 92.5H538.5"/><path d="M544.3 78.7V88.2M542.1 78.7H546.5M542.1 88.2H546.5"/><path d="M552.4 75.4V85.7M550.2 75.4H554.6M550.2 85.7H554.6"/><path d="M560.5 73.1V84.2M558.3 73.1H562.7M558.3 84.2H562.7"/><path d="M568.5 71.1V83.1M566.3 71.1H570.7M566.3 83.1H570.7"/><path d="M576.6 69.4V82.1M574.4 69.4H578.8M574.4 82.1H578.8"/><path d="M584.7 68.2V81.5M582.5 68.2H586.9M582.5 81.5H586.9"/><path d="M592.7 66.4V80.3M590.5 66.4H594.9M590.5 80.3H594.9"/><path d="M600.8 65.2V79.8M598.6 65.2H603.0M598.6 79.8H603.0"/><path d="M608.9 64.4V79.6M606.7 64.4H611.1M606.7 79.6H611.1"/><path d="M616.9 62.1V78.0M614.7 62.1H619.1M614.7 78.0H619.1"/><path d="M625.0 61.1V77.6M622.8 61.1H627.2M622.8 77.6H627.2"/><path d="M633.1 59.4V76.6M630.9 59.4H635.3M630.9 76.6H635.3"/><path d="M641.1 59.1V75.9M638.9 59.1H643.3M638.9 75.9H643.3"/><path d="M649.2 58.5V74.8M647.0 58.5H651.4M647.0 74.8H651.4"/><path d="M657.3 57.5V73.4M655.1 57.5H659.5M655.1 73.4H659.5"/><path d="M665.3 57.0V72.5M663.1 57.0H667.5M663.1 72.5H667.5"/><path d="M673.4 56.7V71.8M671.2 56.7H675.6M671.2 71.8H675.6"/><path d="M681.5 55.9V70.5M679.2 55.9H683.7M679.2 70.5H683.7"/><path d="M689.5 54.3V68.4M687.3 54.3H691.7M687.3 68.4H691.7"/><path d="M697.6 53.1V66.8M695.4 53.1H699.8M695.4 66.8H699.8"/><path d="M447.6 188.9V190.0M445.4 188.9H449.8M445.4 190.0H449.8"/><path d="M455.6 175.5V177.3M453.4 175.5H457.8M453.4 177.3H457.8"/><path d="M463.7 161.9V164.5M461.5 161.9H465.9M461.5 164.5H465.9"/><path d="M471.8 148.2V151.7M469.6 148.2H474.0M469.6 151.7H474.0"/><path d="M479.8 135.3V139.6M477.6 135.3H482.0M477.6 139.6H482.0"/><path d="M487.9 124.0V129.1M485.7 124.0H490.1M485.7 129.1H490.1"/><path d="M496.0 113.6V119.6M493.8 113.6H498.2M493.8 119.6H498.2"/><path d="M504.0 103.6V110.5M501.8 103.6H506.2M501.8 110.5H506.2"/><path d="M512.1 94.9V102.6M509.9 94.9H514.3M509.9 102.6H514.3"/><path d="M520.1 87.6V96.2M517.9 87.6H522.4M517.9 96.2H522.4"/><path d="M528.2 81.7V91.1M526.0 81.7H530.4M526.0 91.1H530.4"/><path d="M536.3 77.3V87.6M534.1 77.3H538.5M534.1 87.6H538.5"/><path d="M544.3 72.7V83.9M542.1 72.7H546.5M542.1 83.9H546.5"/><path d="M552.4 68.0V80.0M550.2 68.0H554.6M550.2 80.0H554.6"/><path d="M560.5 63.8V76.6M558.3 63.8H562.7M558.3 76.6H562.7"/><path d="M568.5 60.3V74.0M566.3 60.3H570.7M566.3 74.0H570.7"/><path d="M576.6 58.2V72.7M574.4 58.2H578.8M574.4 72.7H578.8"/><path d="M584.7 55.5V70.9M582.5 55.5H586.9M582.5 70.9H586.9"/><path d="M592.7 53.7V70.0M590.5 53.7H594.9M590.5 70.0H594.9"/><path d="M600.8 51.7V68.9M598.6 51.7H603.0M598.6 68.9H603.0"/><path d="M608.9 49.9V67.9M606.7 49.9H611.1M606.7 67.9H611.1"/><path d="M616.9 48.3V67.2M614.7 48.3H619.1M614.7 67.2H619.1"/><path d="M625.0 46.7V66.4M622.8 46.7H627.2M622.8 66.4H627.2"/><path d="M633.1 44.9V65.4M630.9 44.9H635.3M630.9 65.4H635.3"/><path d="M641.1 43.3V63.9M638.9 43.3H643.3M638.9 63.9H643.3"/><path d="M649.2 42.6V63.2M647.0 42.6H651.4M647.0 63.2H651.4"/><path d="M657.3 42.0V62.5M655.1 42.0H659.5M655.1 62.5H659.5"/><path d="M665.3 42.0V62.5M663.1 42.0H667.5M663.1 62.5H667.5"/><path d="M673.4 42.0V62.5M671.2 42.0H675.6M671.2 62.5H675.6"/><path d="M681.5 41.3V61.8M679.2 41.3H683.7M679.2 61.8H683.7"/><path d="M689.5 43.3V63.9M687.3 43.3H691.7M687.3 63.9H691.7"/><path d="M697.6 42.0V62.5M695.4 42.0H699.8M695.4 62.5H699.8"/><path d="M447.6 188.9V190.0M445.4 188.9H449.8M445.4 190.0H449.8"/><path d="M455.6 175.2V177.0M453.4 175.2H457.8M453.4 177.0H457.8"/><path d="M463.7 160.7V163.3M461.5 160.7H465.9M461.5 163.3H465.9"/><path d="M471.8 145.7V149.2M469.6 145.7H474.0M469.6 149.2H474.0"/><path d="M479.8 131.4V135.7M477.6 131.4H482.0M477.6 135.7H482.0"/><path d="M487.9 118.5V123.7M485.7 118.5H490.1M485.7 123.7H490.1"/><path d="M496.0 107.0V113.0M493.8 107.0H498.2M493.8 113.0H498.2"/><path d="M504.0 97.0V103.9M501.8 97.0H506.2M501.8 103.9H506.2"/><path d="M512.1 88.2V95.9M509.9 88.2H514.3M509.9 95.9H514.3"/><path d="M520.1 80.3V88.9M517.9 80.3H522.4M517.9 88.9H522.4"/><path d="M528.2 73.3V82.7M526.0 73.3H530.4M526.0 82.7H530.4"/><path d="M536.3 66.9V77.2M534.1 66.9H538.5M534.1 77.2H538.5"/><path d="M544.3 60.6V71.7M542.1 60.6H546.5M542.1 71.7H546.5"/><path d="M552.4 54.8V66.8M550.2 54.8H554.6M550.2 66.8H554.6"/><path d="M560.5 50.9V63.8M558.3 50.9H562.7M558.3 63.8H562.7"/><path d="M568.5 47.6V61.3M566.3 47.6H570.7M566.3 61.3H570.7"/><path d="M576.6 44.5V58.6M574.4 44.5H578.8M574.4 58.6H578.8"/><path d="M584.7 41.4V55.9M582.5 41.4H586.9M582.5 55.9H586.9"/><path d="M592.7 39.3V54.3M590.5 39.3H594.9M590.5 54.3H594.9"/><path d="M600.8 36.5V51.9M598.6 36.5H603.0M598.6 51.9H603.0"/><path d="M608.9 33.0V48.9M606.7 33.0H611.1M606.7 48.9H611.1"/><path d="M616.9 31.2V47.5M614.7 31.2H619.1M614.7 47.5H619.1"/><path d="M625.0 29.3V46.0M622.8 29.3H627.2M622.8 46.0H627.2"/><path d="M633.1 28.6V45.7M630.9 28.6H635.3M630.9 45.7H635.3"/><path d="M641.1 26.6V43.6M638.9 26.6H643.3M638.9 43.6H643.3"/><path d="M649.2 24.3V41.1M647.0 24.3H651.4M647.0 41.1H651.4"/><path d="M657.3 24.4V40.9M655.1 24.4H659.5M655.1 40.9H659.5"/><path d="M665.3 24.0V40.3M663.1 24.0H667.5M663.1 40.3H667.5"/><path d="M673.4 24.7V40.7M671.2 24.7H675.6M671.2 40.7H675.6"/><path d="M681.5 26.1V42.0M679.2 26.1H683.7M679.2 42.0H683.7"/><path d="M689.5 26.9V42.6M687.3 26.9H691.7M687.3 42.6H691.7"/><path d="M697.6 27.4V42.8M695.4 27.4H699.8M695.4 42.8H699.8"/></g>
<path d="M447.6 189.4 L455.6 189.4 L463.7 189.3 L471.8 189.3 L479.8 189.2 L487.9 189.1 L496.0 189.0 L504.0 189.0 L512.1 188.9 L520.1 188.8 L528.2 188.6 L536.3 188.5 L544.3 188.3 L552.4 188.1 L560.5 187.9 L568.5 187.8 L576.6 187.6 L584.7 187.6 L592.7 187.5 L600.8 187.4 L608.9 187.4 L616.9 187.3 L625.0 187.3 L633.1 187.2 L641.1 187.2 L649.2 187.2 L657.3 187.1 L665.3 187.1 L673.4 187.1 L681.5 187.1 L689.5 187.0 L697.6 187.0" stroke="#c9d23a" stroke-width="1.9" fill="none" stroke-linejoin="round" stroke-linecap="round"/>
<path d="M447.6 189.3 L455.6 189.1 L463.7 189.0 L471.8 188.9 L479.8 188.8 L487.9 188.8 L496.0 188.8 L504.0 188.8 L512.1 188.8 L520.1 188.8 L528.2 188.8 L536.3 188.8 L544.3 188.8 L552.4 188.8 L560.5 188.8 L568.5 188.8 L576.6 188.8 L584.7 188.8 L592.7 188.8 L600.8 188.8 L608.9 188.8 L616.9 188.8 L625.0 188.8 L633.1 188.8 L641.1 188.8 L649.2 188.8 L657.3 188.8 L665.3 188.8 L673.4 188.8 L681.5 188.8 L689.5 188.8 L697.6 188.8" stroke="#1f8fa6" stroke-width="1.9" fill="none" stroke-linejoin="round" stroke-linecap="round"/>
<path d="M447.6 189.4 L455.6 187.2 L463.7 184.5 L471.8 180.7 L479.8 178.5 L487.9 176.4 L496.0 175.0 L504.0 174.0 L512.1 173.5 L520.1 173.5 L528.2 174.0 L536.3 174.3 L544.3 175.2 L552.4 175.7 L560.5 176.4 L568.5 177.1 L576.6 177.9 L584.7 178.6 L592.7 179.3 L600.8 180.0 L608.9 180.6 L616.9 181.2 L625.0 181.7 L633.1 182.1 L641.1 182.5 L649.2 182.9 L657.3 183.1 L665.3 183.3 L673.4 183.4 L681.5 183.6 L689.5 183.8 L697.6 184.0" stroke="#cf7ee6" stroke-width="1.9" fill="none" stroke-linejoin="round" stroke-linecap="round"/>
<path d="M447.6 189.4 L455.6 182.9 L463.7 171.8 L471.8 158.6 L479.8 146.1 L487.9 135.8 L496.0 126.0 L504.0 124.1 L512.1 124.1 L520.1 128.0 L528.2 130.8 L536.3 119.1 L544.3 114.5 L552.4 114.2 L560.5 113.6 L568.5 113.5 L576.6 111.6 L584.7 111.6 L592.7 112.1 L600.8 112.1 L608.9 112.6 L616.9 109.7 L625.0 107.6 L633.1 105.4 L641.1 99.9 L649.2 99.9 L657.3 99.9 L665.3 100.6 L673.4 104.7 L681.5 106.6 L689.5 105.8 L697.6 103.7" stroke="#f28a8a" stroke-width="1.9" fill="none" stroke-linejoin="round" stroke-linecap="round"/>
<path d="M447.6 189.4 L455.6 176.8 L463.7 164.1 L471.8 151.2 L479.8 139.2 L487.9 129.2 L496.0 120.3 L504.0 112.4 L512.1 105.2 L520.1 98.8 L528.2 93.1 L536.3 88.2 L544.3 83.5 L552.4 80.5 L560.5 78.6 L568.5 77.1 L576.6 75.7 L584.7 74.9 L592.7 73.3 L600.8 72.5 L608.9 72.0 L616.9 70.1 L625.0 69.4 L633.1 68.0 L641.1 67.5 L649.2 66.6 L657.3 65.4 L665.3 64.8 L673.4 64.2 L681.5 63.2 L689.5 61.3 L697.6 60.0" stroke="#25b22a" stroke-width="1.9" fill="none" stroke-linejoin="round" stroke-linecap="round"/>
<path d="M447.6 189.4 L455.6 176.4 L463.7 163.2 L471.8 150.0 L479.8 137.5 L487.9 126.5 L496.0 116.6 L504.0 107.1 L512.1 98.7 L520.1 91.9 L528.2 86.4 L536.3 82.4 L544.3 78.3 L552.4 74.0 L560.5 70.2 L568.5 67.2 L576.6 65.4 L584.7 63.2 L592.7 61.8 L600.8 60.3 L608.9 58.9 L616.9 57.7 L625.0 56.5 L633.1 55.2 L641.1 53.6 L649.2 52.9 L657.3 52.2 L665.3 52.2 L673.4 52.2 L681.5 51.6 L689.5 53.6 L697.6 52.2" stroke="#7b80e6" stroke-width="1.9" fill="none" stroke-linejoin="round" stroke-linecap="round"/>
<path d="M447.6 189.4 L455.6 176.1 L463.7 162.0 L471.8 147.5 L479.8 133.5 L487.9 121.1 L496.0 110.0 L504.0 100.5 L512.1 92.0 L520.1 84.6 L528.2 78.0 L536.3 72.0 L544.3 66.1 L552.4 60.8 L560.5 57.4 L568.5 54.5 L576.6 51.6 L584.7 48.6 L592.7 46.8 L600.8 44.2 L608.9 40.9 L616.9 39.4 L625.0 37.7 L633.1 37.2 L641.1 35.1 L649.2 32.7 L657.3 32.7 L665.3 32.2 L673.4 32.7 L681.5 34.1 L689.5 34.7 L697.6 35.1" stroke="#e3262c" stroke-width="1.9" fill="none" stroke-linejoin="round" stroke-linecap="round"/>
<path d="M439.5 19.0V199.5M438.5 191.5H698.0" stroke="#000" stroke-width="2" fill="none"/>
<path d="M432.5 191.5H439.5M432.5 157.2H439.5M432.5 122.9H439.5M432.5 88.6H439.5M432.5 54.3H439.5M432.5 20.0H439.5M520.1 191.5V198.5M600.8 191.5V198.5M681.5 191.5V198.5M479.8 191.5V196.0M560.5 191.5V196.0M641.1 191.5V196.0" stroke="#000" stroke-width="2" fill="none"/>
<text x="430.5" y="195.7" text-anchor="end" class="t" font-size="13">0.1</text>
<text x="430.5" y="161.4" text-anchor="end" class="t" font-size="13">0.3</text>
<text x="430.5" y="127.1" text-anchor="end" class="t" font-size="13">0.5</text>
<text x="430.5" y="92.8" text-anchor="end" class="t" font-size="13">0.7</text>
<text x="430.5" y="58.5" text-anchor="end" class="t" font-size="13">0.9</text>
<text x="430.5" y="24.2" text-anchor="end" class="t" font-size="13">1.1</text>
<text x="439.5" y="213.0" text-anchor="middle" class="t" font-size="13">0</text>
<text x="520.1" y="213.0" text-anchor="middle" class="t" font-size="13">5</text>
<text x="600.8" y="213.0" text-anchor="middle" class="t" font-size="13">10</text>
<text x="681.5" y="213.0" text-anchor="middle" class="t" font-size="13">15</text>
<text x="566.0" y="229.2" text-anchor="middle" class="t" font-size="17.5">Time (h)</text>
<text transform="translate(382.5,91.7) rotate(-90)" text-anchor="middle" class="t" font-size="16.5" textLength="120" lengthAdjust="spacingAndGlyphs">Growth density</text>
<text transform="translate(402.3,94.8) rotate(-90)" text-anchor="middle" class="t" font-size="16" textLength="75.6" lengthAdjust="spacingAndGlyphs">(OD<tspan font-size="12">600nm</tspan>)</text>
<text x="364" y="18.8" class="t" font-size="26">B</text>
<g stroke="#999" stroke-width="0.8" fill="none"><path d="M82.3 436.7V437.9M80.1 436.7H84.5M80.1 437.9H84.5"/><path d="M90.3 436.7V437.9M88.1 436.7H92.5M88.1 437.9H92.5"/><path d="M98.3 436.7V437.8M96.1 436.7H100.5M96.1 437.8H100.5"/><path d="M106.4 436.6V437.7M104.2 436.6H108.6M104.2 437.7H108.6"/><path d="M114.4 436.5V437.6M112.2 436.5H116.6M112.2 437.6H116.6"/><path d="M122.4 436.4V437.5M120.2 436.4H124.6M120.2 437.5H124.6"/><path d="M130.4 436.2V437.3M128.2 436.2H132.6M128.2 437.3H132.6"/><path d="M138.4 436.0V437.1M136.2 436.0H140.6M136.2 437.1H140.6"/><path d="M146.4 435.8V436.9M144.2 435.8H148.6M144.2 436.9H148.6"/><path d="M154.4 435.5V436.6M152.2 435.5H156.6M152.2 436.6H156.6"/><path d="M162.5 435.2V436.3M160.3 435.2H164.7M160.3 436.3H164.7"/><path d="M170.5 434.9V436.0M168.3 434.9H172.7M168.3 436.0H172.7"/><path d="M178.5 434.1V435.2M176.3 434.1H180.7M176.3 435.2H180.7"/><path d="M186.5 432.9V434.0M184.3 432.9H188.7M184.3 434.0H188.7"/><path d="M194.5 431.2V432.4M192.3 431.2H196.7M192.3 432.4H196.7"/><path d="M202.5 430.2V431.3M200.3 430.2H204.7M200.3 431.3H204.7"/><path d="M210.6 430.2V431.3M208.4 430.2H212.8M208.4 431.3H212.8"/><path d="M218.6 431.6V432.7M216.4 431.6H220.8M216.4 432.7H220.8"/><path d="M226.6 431.5V432.6M224.4 431.5H228.8M224.4 432.6H228.8"/><path d="M234.6 431.2V432.3M232.4 431.2H236.8M232.4 432.3H236.8"/><path d="M242.6 430.6V431.7M240.4 430.6H244.8M240.4 431.7H244.8"/><path d="M250.6 430.2V431.3M248.4 430.2H252.8M248.4 431.3H252.8"/><path d="M258.6 430.6V431.7M256.4 430.6H260.8M256.4 431.7H260.8"/><path d="M266.7 431.2V432.3M264.5 431.2H268.9M264.5 432.3H268.9"/><path d="M274.7 431.7V432.9M272.5 431.7H276.9M272.5 432.9H276.9"/><path d="M282.7 432.2V433.3M280.5 432.2H284.9M280.5 433.3H284.9"/><path d="M290.7 432.5V433.6M288.5 432.5H292.9M288.5 433.6H292.9"/><path d="M298.7 432.7V433.9M296.5 432.7H300.9M296.5 433.9H300.9"/><path d="M306.7 433.0V434.2M304.5 433.0H308.9M304.5 434.2H308.9"/><path d="M314.8 433.2V434.3M312.6 433.2H316.9M312.6 434.3H316.9"/><path d="M322.8 433.2V434.3M320.6 433.2H325.0M320.6 434.3H325.0"/><path d="M330.8 433.2V434.3M328.6 433.2H333.0M328.6 434.3H333.0"/><path d="M82.3 436.9V438.0M80.1 436.9H84.5M80.1 438.0H84.5"/><path d="M90.3 436.1V437.3M88.1 436.1H92.5M88.1 437.3H92.5"/><path d="M98.3 435.4V436.7M96.1 435.4H100.5M96.1 436.7H100.5"/><path d="M106.4 434.8V436.2M104.2 434.8H108.6M104.2 436.2H108.6"/><path d="M114.4 434.3V435.8M112.2 434.3H116.6M112.2 435.8H116.6"/><path d="M122.4 433.8V435.4M120.2 433.8H124.6M120.2 435.4H124.6"/><path d="M130.4 433.3V435.0M128.2 433.3H132.6M128.2 435.0H132.6"/><path d="M138.4 432.9V434.6M136.2 432.9H140.6M136.2 434.6H140.6"/><path d="M146.4 432.0V434.7M144.2 432.0H148.6M144.2 434.7H148.6"/><path d="M154.4 431.0V434.7M152.2 431.0H156.6M152.2 434.7H156.6"/><path d="M162.5 429.4V434.1M160.3 429.4H164.7M160.3 434.1H164.7"/><path d="M170.5 427.2V432.9M168.3 427.2H172.7M168.3 432.9H172.7"/><path d="M178.5 424.4V431.5M176.3 424.4H180.7M176.3 431.5H180.7"/><path d="M186.5 421.5V430.0M184.3 421.5H188.7M184.3 430.0H188.7"/><path d="M194.5 419.4V429.3M192.3 419.4H196.7M192.3 429.3H196.7"/><path d="M202.5 417.4V428.8M200.3 417.4H204.7M200.3 428.8H204.7"/><path d="M210.6 415.5V426.9M208.4 415.5H212.8M208.4 426.9H212.8"/><path d="M218.6 415.5V426.9M216.4 415.5H220.8M216.4 426.9H220.8"/><path d="M226.6 415.0V426.3M224.4 415.0H228.8M224.4 426.3H228.8"/><path d="M234.6 412.3V423.6M232.4 412.3H236.8M232.4 423.6H236.8"/><path d="M242.6 411.6V422.9M240.4 411.6H244.8M240.4 422.9H244.8"/><path d="M250.6 410.3V421.6M248.4 410.3H252.8M248.4 421.6H252.8"/><path d="M258.6 406.9V418.2M256.4 406.9H260.8M256.4 418.2H260.8"/><path d="M266.7 404.9V416.2M264.5 404.9H268.9M264.5 416.2H268.9"/><path d="M274.7 401.9V413.5M272.5 401.9H276.9M272.5 413.5H276.9"/><path d="M282.7 399.0V410.7M280.5 399.0H284.9M280.5 410.7H284.9"/><path d="M290.7 396.9V408.8M288.5 396.9H292.9M288.5 408.8H292.9"/><path d="M298.7 395.8V407.9M296.5 395.8H300.9M296.5 407.9H300.9"/><path d="M306.7 390.9V403.2M304.5 390.9H308.9M304.5 403.2H308.9"/><path d="M314.8 388.0V400.4M312.6 388.0H316.9M312.6 400.4H316.9"/><path d="M322.8 385.0V397.7M320.6 385.0H325.0M320.6 397.7H325.0"/><path d="M330.8 382.0V394.8M328.6 382.0H333.0M328.6 394.8H333.0"/><path d="M82.3 436.4V437.9M80.1 436.4H84.5M80.1 437.9H84.5"/><path d="M90.3 434.8V436.6M88.1 434.8H92.5M88.1 436.6H92.5"/><path d="M98.3 433.2V435.4M96.1 433.2H100.5M96.1 435.4H100.5"/><path d="M106.4 431.6V434.2M104.2 431.6H108.6M104.2 434.2H108.6"/><path d="M114.4 429.7V432.7M112.2 429.7H116.6M112.2 432.7H116.6"/><path d="M122.4 427.6V431.1M120.2 427.6H124.6M120.2 431.1H124.6"/><path d="M130.4 426.4V430.3M128.2 426.4H132.6M128.2 430.3H132.6"/><path d="M138.4 423.6V427.9M136.2 423.6H140.6M136.2 427.9H140.6"/><path d="M146.4 418.7V423.2M144.2 418.7H148.6M144.2 423.2H148.6"/><path d="M154.4 411.8V416.4M152.2 411.8H156.6M152.2 416.4H156.6"/><path d="M162.5 405.7V410.5M160.3 405.7H164.7M160.3 410.5H164.7"/><path d="M170.5 404.1V409.1M168.3 404.1H172.7M168.3 409.1H172.7"/><path d="M178.5 400.4V405.6M176.3 400.4H180.7M176.3 405.6H180.7"/><path d="M186.5 398.8V404.1M184.3 398.8H188.7M184.3 404.1H188.7"/><path d="M194.5 393.6V399.1M192.3 393.6H196.7M192.3 399.1H196.7"/><path d="M202.5 390.9V396.6M200.3 390.9H204.7M200.3 396.6H204.7"/><path d="M210.6 390.1V395.8M208.4 390.1H212.8M208.4 395.8H212.8"/><path d="M218.6 382.7V388.4M216.4 382.7H220.8M216.4 388.4H220.8"/><path d="M226.6 380.8V386.5M224.4 380.8H228.8M224.4 386.5H228.8"/><path d="M234.6 374.0V379.7M232.4 374.0H236.8M232.4 379.7H236.8"/><path d="M242.6 374.6V381.0M240.4 374.6H244.8M240.4 381.0H244.8"/><path d="M250.6 369.0V376.1M248.4 369.0H252.8M248.4 376.1H252.8"/><path d="M258.6 369.1V376.9M256.4 369.1H260.8M256.4 376.9H260.8"/><path d="M266.7 364.9V373.4M264.5 364.9H268.9M264.5 373.4H268.9"/><path d="M274.7 355.7V365.0M272.5 355.7H276.9M272.5 365.0H276.9"/><path d="M282.7 349.7V359.6M280.5 349.7H284.9M280.5 359.6H284.9"/><path d="M290.7 345.5V356.1M288.5 345.5H292.9M288.5 356.1H292.9"/><path d="M298.7 344.3V355.6M296.5 344.3H300.9M296.5 355.6H300.9"/><path d="M306.7 341.6V354.4M304.5 341.6H308.9M304.5 354.4H308.9"/><path d="M314.8 330.2V344.4M312.6 330.2H316.9M312.6 344.4H316.9"/><path d="M322.8 324.6V340.3M320.6 324.6H325.0M320.6 340.3H325.0"/><path d="M330.8 319.2V336.3M328.6 319.2H333.0M328.6 336.3H333.0"/><path d="M82.3 436.2V437.6M80.1 436.2H84.5M80.1 437.6H84.5"/><path d="M90.3 434.2V435.8M88.1 434.2H92.5M88.1 435.8H92.5"/><path d="M98.3 433.1V434.9M96.1 433.1H100.5M96.1 434.9H100.5"/><path d="M106.4 431.6V433.6M104.2 431.6H108.6M104.2 433.6H108.6"/><path d="M114.4 429.6V431.9M112.2 429.6H116.6M112.2 431.9H116.6"/><path d="M122.4 427.4V429.8M120.2 427.4H124.6M120.2 429.8H124.6"/><path d="M130.4 423.0V425.7M128.2 423.0H132.6M128.2 425.7H132.6"/><path d="M138.4 417.2V420.1M136.2 417.2H140.6M136.2 420.1H140.6"/><path d="M146.4 411.7V414.9M144.2 411.7H148.6M144.2 414.9H148.6"/><path d="M154.4 403.4V406.9M152.2 403.4H156.6M152.2 406.9H156.6"/><path d="M162.5 397.1V401.0M160.3 397.1H164.7M160.3 401.0H164.7"/><path d="M170.5 391.2V395.5M168.3 391.2H172.7M168.3 395.5H172.7"/><path d="M178.5 385.1V389.7M176.3 385.1H180.7M176.3 389.7H180.7"/><path d="M186.5 374.9V379.9M184.3 374.9H188.7M184.3 379.9H188.7"/><path d="M194.5 367.2V372.5M192.3 367.2H196.7M192.3 372.5H196.7"/><path d="M202.5 361.9V367.6M200.3 361.9H204.7M200.3 367.6H204.7"/><path d="M210.6 355.4V363.9M208.4 355.4H212.8M208.4 363.9H212.8"/><path d="M218.6 344.7V356.1M216.4 344.7H220.8M216.4 356.1H220.8"/><path d="M226.6 341.8V353.2M224.4 341.8H228.8M224.4 353.2H228.8"/><path d="M234.6 327.6V339.0M232.4 327.6H236.8M232.4 339.0H236.8"/><path d="M242.6 325.5V338.3M240.4 325.5H244.8M240.4 338.3H244.8"/><path d="M250.6 319.1V333.3M248.4 319.1H252.8M248.4 333.3H252.8"/><path d="M258.6 311.6V329.4M256.4 311.6H260.8M256.4 329.4H260.8"/><path d="M266.7 305.6V326.9M264.5 305.6H268.9M264.5 326.9H268.9"/><path d="M274.7 301.7V322.3M272.5 301.7H276.9M272.5 322.3H276.9"/><path d="M282.7 293.5V313.4M280.5 293.5H284.9M280.5 313.4H284.9"/><path d="M290.7 288.6V309.9M288.5 288.6H292.9M288.5 309.9H292.9"/><path d="M298.7 284.9V307.7M296.5 284.9H300.9M296.5 307.7H300.9"/><path d="M306.7 283.4V304.7M304.5 283.4H308.9M304.5 304.7H308.9"/><path d="M314.8 282.1V302.0M312.6 282.1H316.9M312.6 302.0H316.9"/><path d="M322.8 281.4V298.5M320.6 281.4H325.0M320.6 298.5H325.0"/><path d="M330.8 280.7V294.9M328.6 280.7H333.0M328.6 294.9H333.0"/><path d="M82.3 434.6V437.4M80.1 434.6H84.5M80.1 437.4H84.5"/><path d="M90.3 431.7V434.6M88.1 431.7H92.5M88.1 434.6H92.5"/><path d="M98.3 430.8V433.6M96.1 430.8H100.5M96.1 433.6H100.5"/><path d="M106.4 429.6V432.5M104.2 429.6H108.6M104.2 432.5H108.6"/><path d="M114.4 427.9V430.8M112.2 427.9H116.6M112.2 430.8H116.6"/><path d="M122.4 424.4V427.2M120.2 424.4H124.6M120.2 427.2H124.6"/><path d="M130.4 420.1V422.9M128.2 420.1H132.6M128.2 422.9H132.6"/><path d="M138.4 416.5V419.4M136.2 416.5H140.6M136.2 419.4H140.6"/><path d="M146.4 411.5V414.5M144.2 411.5H148.6M144.2 414.5H148.6"/><path d="M154.4 403.5V406.7M152.2 403.5H156.6M152.2 406.7H156.6"/><path d="M162.5 397.1V400.4M160.3 397.1H164.7M160.3 400.4H164.7"/><path d="M170.5 391.1V394.7M168.3 391.1H172.7M168.3 394.7H172.7"/><path d="M178.5 385.1V388.8M176.3 385.1H180.7M176.3 388.8H180.7"/><path d="M186.5 373.9V377.8M184.3 373.9H188.7M184.3 377.8H188.7"/><path d="M194.5 356.9V361.0M192.3 356.9H196.7M192.3 361.0H196.7"/><path d="M202.5 349.0V353.2M200.3 349.0H204.7M200.3 353.2H204.7"/><path d="M210.6 342.6V346.8M208.4 342.6H212.8M208.4 346.8H212.8"/><path d="M218.6 330.3V334.6M216.4 330.3H220.8M216.4 334.6H220.8"/><path d="M226.6 324.6V328.9M224.4 324.6H228.8M224.4 328.9H228.8"/><path d="M234.6 317.8V322.1M232.4 317.8H236.8M232.4 322.1H236.8"/><path d="M242.6 315.0V319.2M240.4 315.0H244.8M240.4 319.2H244.8"/><path d="M250.6 309.1V313.4M248.4 309.1H252.8M248.4 313.4H252.8"/><path d="M258.6 310.7V315.0M256.4 310.7H260.8M256.4 315.0H260.8"/><path d="M266.7 304.4V308.7M264.5 304.4H268.9M264.5 308.7H268.9"/><path d="M274.7 301.0V305.3M272.5 301.0H276.9M272.5 305.3H276.9"/><path d="M282.7 298.6V302.9M280.5 298.6H284.9M280.5 302.9H284.9"/><path d="M290.7 296.6V300.9M288.5 296.6H292.9M288.5 300.9H292.9"/><path d="M298.7 292.8V297.0M296.5 292.8H300.9M296.5 297.0H300.9"/><path d="M306.7 292.8V297.0M304.5 292.8H308.9M304.5 297.0H308.9"/><path d="M314.8 290.9V295.2M312.6 290.9H316.9M312.6 295.2H316.9"/><path d="M322.8 288.9V293.2M320.6 288.9H325.0M320.6 293.2H325.0"/><path d="M330.8 287.5V291.8M328.6 287.5H333.0M328.6 291.8H333.0"/><path d="M82.3 436.2V437.6M80.1 436.2H84.5M80.1 437.6H84.5"/><path d="M90.3 434.2V435.8M88.1 434.2H92.5M88.1 435.8H92.5"/><path d="M98.3 433.1V434.9M96.1 433.1H100.5M96.1 434.9H100.5"/><path d="M106.4 431.6V433.6M104.2 431.6H108.6M104.2 433.6H108.6"/><path d="M114.4 429.6V431.9M112.2 429.6H116.6M112.2 431.9H116.6"/><path d="M122.4 427.4V429.8M120.2 427.4H124.6M120.2 429.8H124.6"/><path d="M130.4 423.0V425.7M128.2 423.0H132.6M128.2 425.7H132.6"/><path d="M138.4 417.2V420.1M136.2 417.2H140.6M136.2 420.1H140.6"/><path d="M146.4 411.7V414.8M144.2 411.7H148.6M144.2 414.8H148.6"/><path d="M154.4 403.3V406.5M152.2 403.3H156.6M152.2 406.5H156.6"/><path d="M162.5 397.1V400.4M160.3 397.1H164.7M160.3 400.4H164.7"/><path d="M170.5 391.1V394.7M168.3 391.1H172.7M168.3 394.7H172.7"/><path d="M178.5 385.1V388.8M176.3 385.1H180.7M176.3 388.8H180.7"/><path d="M186.5 373.9V377.8M184.3 373.9H188.7M184.3 377.8H188.7"/><path d="M194.5 364.4V368.5M192.3 364.4H196.7M192.3 368.5H196.7"/><path d="M202.5 355.9V360.2M200.3 355.9H204.7M200.3 360.2H204.7"/><path d="M210.6 350.6V355.3M208.4 350.6H212.8M208.4 355.3H212.8"/><path d="M218.6 343.5V348.5M216.4 343.5H220.8M216.4 348.5H220.8"/><path d="M226.6 334.6V340.0M224.4 334.6H228.8M224.4 340.0H228.8"/><path d="M234.6 329.6V335.3M232.4 329.6H236.8M232.4 335.3H236.8"/><path d="M242.6 326.8V332.5M240.4 326.8H244.8M240.4 332.5H244.8"/><path d="M250.6 321.9V327.6M248.4 321.9H252.8M248.4 327.6H252.8"/><path d="M258.6 316.1V321.8M256.4 316.1H260.8M256.4 321.8H260.8"/><path d="M266.7 312.7V318.4M264.5 312.7H268.9M264.5 318.4H268.9"/><path d="M274.7 306.6V312.3M272.5 306.6H276.9M272.5 312.3H276.9"/><path d="M282.7 297.9V303.6M280.5 297.9H284.9M280.5 303.6H284.9"/><path d="M290.7 293.9V299.6M288.5 293.9H292.9M288.5 299.6H292.9"/><path d="M298.7 291.1V296.8M296.5 291.1H300.9M296.5 296.8H300.9"/><path d="M306.7 288.2V293.9M304.5 288.2H308.9M304.5 293.9H308.9"/><path d="M314.8 286.2V291.9M312.6 286.2H316.9M312.6 291.9H316.9"/><path d="M322.8 283.0V288.6M320.6 283.0H325.0M320.6 288.6H325.0"/><path d="M330.8 279.8V285.5M328.6 279.8H333.0M328.6 285.5H333.0"/><path d="M82.3 436.2V437.6M80.1 436.2H84.5M80.1 437.6H84.5"/><path d="M90.3 432.7V434.5M88.1 432.7H92.5M88.1 434.5H92.5"/><path d="M98.3 429.2V431.4M96.1 429.2H100.5M96.1 431.4H100.5"/><path d="M106.4 425.4V428.1M104.2 425.4H108.6M104.2 428.1H108.6"/><path d="M114.4 421.1V424.2M112.2 421.1H116.6M112.2 424.2H116.6"/><path d="M122.4 415.5V419.0M120.2 415.5H124.6M120.2 419.0H124.6"/><path d="M130.4 411.0V414.9M128.2 411.0H132.6M128.2 414.9H132.6"/><path d="M138.4 403.3V407.6M136.2 403.3H140.6M136.2 407.6H140.6"/><path d="M146.4 396.5V401.0M144.2 396.5H148.6M144.2 401.0H148.6"/><path d="M154.4 388.0V392.7M152.2 388.0H156.6M152.2 392.7H156.6"/><path d="M162.5 379.4V384.2M160.3 379.4H164.7M160.3 384.2H164.7"/><path d="M170.5 370.8V375.8M168.3 370.8H172.7M168.3 375.8H172.7"/><path d="M178.5 361.5V366.6M176.3 361.5H180.7M176.3 366.6H180.7"/><path d="M186.5 355.4V360.7M184.3 355.4H188.7M184.3 360.7H188.7"/><path d="M194.5 348.5V354.0M192.3 348.5H196.7M192.3 354.0H196.7"/><path d="M202.5 342.4V348.1M200.3 342.4H204.7M200.3 348.1H204.7"/><path d="M210.6 335.4V341.1M208.4 335.4H212.8M208.4 341.1H212.8"/><path d="M218.6 328.6V334.3M216.4 328.6H220.8M216.4 334.3H220.8"/><path d="M226.6 323.9V329.6M224.4 323.9H228.8M224.4 329.6H228.8"/><path d="M234.6 319.1V324.8M232.4 319.1H236.8M232.4 324.8H236.8"/><path d="M242.6 316.1V321.8M240.4 316.1H244.8M240.4 321.8H244.8"/><path d="M250.6 312.0V317.7M248.4 312.0H252.8M248.4 317.7H252.8"/><path d="M258.6 311.4V317.1M256.4 311.4H260.8M256.4 317.1H260.8"/><path d="M266.7 310.0V315.7M264.5 310.0H268.9M264.5 315.7H268.9"/><path d="M274.7 310.4V316.1M272.5 310.4H276.9M272.5 316.1H276.9"/><path d="M282.7 305.6V311.3M280.5 305.6H284.9M280.5 311.3H284.9"/><path d="M290.7 299.7V305.4M288.5 299.7H292.9M288.5 305.4H292.9"/><path d="M298.7 296.9V302.6M296.5 296.9H300.9M296.5 302.6H300.9"/><path d="M306.7 293.6V299.3M304.5 293.6H308.9M304.5 299.3H308.9"/><path d="M314.8 290.6V296.3M312.6 290.6H316.9M312.6 296.3H316.9"/><path d="M322.8 287.2V292.9M320.6 287.2H325.0M320.6 292.9H325.0"/><path d="M330.8 283.8V289.5M328.6 283.8H333.0M328.6 289.5H333.0"/></g>
<path d="M82.3 437.3 L90.3 437.3 L98.3 437.2 L106.4 437.2 L114.4 437.1 L122.4 436.9 L130.4 436.8 L138.4 436.6 L146.4 436.3 L154.4 436.1 L162.5 435.8 L170.5 435.4 L178.5 434.7 L186.5 433.5 L194.5 431.8 L202.5 430.8 L210.6 430.8 L218.6 432.2 L226.6 432.0 L234.6 431.7 L242.6 431.2 L250.6 430.8 L258.6 431.1 L266.7 431.7 L274.7 432.3 L282.7 432.7 L290.7 433.1 L298.7 433.3 L306.7 433.6 L314.8 433.7 L322.8 433.7 L330.8 433.7" stroke="#c9d23a" stroke-width="1.9" fill="none" stroke-linejoin="round" stroke-linecap="round"/>
<path d="M82.3 437.4 L90.3 436.7 L98.3 436.0 L106.4 435.5 L114.4 435.0 L122.4 434.6 L130.4 434.2 L138.4 433.7 L146.4 433.4 L154.4 432.9 L162.5 431.7 L170.5 430.0 L178.5 427.9 L186.5 425.8 L194.5 424.4 L202.5 423.1 L210.6 421.2 L218.6 421.2 L226.6 420.7 L234.6 418.0 L242.6 417.2 L250.6 416.0 L258.6 412.5 L266.7 410.6 L274.7 407.7 L282.7 404.9 L290.7 402.9 L298.7 401.9 L306.7 397.0 L314.8 394.2 L322.8 391.4 L330.8 388.4" stroke="#1f8fa6" stroke-width="1.9" fill="none" stroke-linejoin="round" stroke-linecap="round"/>
<path d="M82.3 437.2 L90.3 435.7 L98.3 434.3 L106.4 432.9 L114.4 431.2 L122.4 429.3 L130.4 428.3 L138.4 425.8 L146.4 420.9 L154.4 414.1 L162.5 408.1 L170.5 406.6 L178.5 403.0 L186.5 401.5 L194.5 396.3 L202.5 393.8 L210.6 392.9 L218.6 385.5 L226.6 383.7 L234.6 376.8 L242.6 377.8 L250.6 372.6 L258.6 373.0 L266.7 369.2 L274.7 360.3 L282.7 354.6 L290.7 350.8 L298.7 350.0 L306.7 348.0 L314.8 337.3 L322.8 332.5 L330.8 327.8" stroke="#cf7ee6" stroke-width="1.9" fill="none" stroke-linejoin="round" stroke-linecap="round"/>
<path d="M82.3 436.9 L90.3 435.0 L98.3 434.0 L106.4 432.6 L114.4 430.8 L122.4 428.6 L130.4 424.4 L138.4 418.7 L146.4 413.3 L154.4 405.1 L162.5 399.0 L170.5 393.3 L178.5 387.4 L186.5 377.4 L194.5 369.9 L202.5 364.7 L210.6 359.6 L218.6 350.4 L226.6 347.5 L234.6 333.3 L242.6 331.9 L250.6 326.2 L258.6 320.5 L266.7 316.2 L274.7 312.0 L282.7 303.4 L290.7 299.2 L298.7 296.3 L306.7 294.1 L314.8 292.1 L322.8 289.9 L330.8 287.8" stroke="#f28a8a" stroke-width="1.9" fill="none" stroke-linejoin="round" stroke-linecap="round"/>
<path d="M82.3 436.0 L90.3 433.2 L98.3 432.2 L106.4 431.0 L114.4 429.3 L122.4 425.8 L130.4 421.5 L138.4 418.0 L146.4 413.0 L154.4 405.1 L162.5 398.7 L170.5 392.9 L178.5 386.9 L186.5 375.8 L194.5 358.9 L202.5 351.1 L210.6 344.7 L218.6 332.5 L226.6 326.8 L234.6 319.9 L242.6 317.1 L250.6 311.3 L258.6 312.8 L266.7 306.6 L274.7 303.2 L282.7 300.7 L290.7 298.7 L298.7 294.9 L306.7 294.9 L314.8 293.1 L322.8 291.1 L330.8 289.6" stroke="#25b22a" stroke-width="1.9" fill="none" stroke-linejoin="round" stroke-linecap="round"/>
<path d="M82.3 436.9 L90.3 435.0 L98.3 434.0 L106.4 432.6 L114.4 430.8 L122.4 428.6 L130.4 424.4 L138.4 418.7 L146.4 413.3 L154.4 404.9 L162.5 398.7 L170.5 392.9 L178.5 386.9 L186.5 375.8 L194.5 366.5 L202.5 358.1 L210.6 352.9 L218.6 346.0 L226.6 337.3 L234.6 332.5 L242.6 329.6 L250.6 324.8 L258.6 318.9 L266.7 315.5 L274.7 309.4 L282.7 300.7 L290.7 296.8 L298.7 293.9 L306.7 291.1 L314.8 289.1 L322.8 285.8 L330.8 282.7" stroke="#7b80e6" stroke-width="1.9" fill="none" stroke-linejoin="round" stroke-linecap="round"/>
<path d="M82.3 436.9 L90.3 433.6 L98.3 430.3 L106.4 426.8 L114.4 422.6 L122.4 417.2 L130.4 413.0 L138.4 405.4 L146.4 398.7 L154.4 390.4 L162.5 381.8 L170.5 373.3 L178.5 364.0 L186.5 358.1 L194.5 351.2 L202.5 345.3 L210.6 338.3 L218.6 331.5 L226.6 326.8 L234.6 321.9 L242.6 318.9 L250.6 314.8 L258.6 314.3 L266.7 312.8 L274.7 313.3 L282.7 308.4 L290.7 302.6 L298.7 299.7 L306.7 296.5 L314.8 293.5 L322.8 290.1 L330.8 286.7" stroke="#e3262c" stroke-width="1.9" fill="none" stroke-linejoin="round" stroke-linecap="round"/>
<path d="M74.3 268.3V448.0M73.3 440.0H332.0" stroke="#000" stroke-width="2" fill="none"/>
<path d="M67.3 440.0H74.3M67.3 411.6H74.3M67.3 383.1H74.3M67.3 354.6H74.3M67.3 326.2H74.3M67.3 297.8H74.3M67.3 269.3H74.3M154.4 440.0V447.0M234.6 440.0V447.0M314.8 440.0V447.0M114.4 440.0V444.5M194.5 440.0V444.5M274.7 440.0V444.5" stroke="#000" stroke-width="2" fill="none"/>
<text x="65.3" y="444.2" text-anchor="end" class="t" font-size="13">0.1</text>
<text x="65.3" y="415.8" text-anchor="end" class="t" font-size="13">0.3</text>
<text x="65.3" y="387.3" text-anchor="end" class="t" font-size="13">0.5</text>
<text x="65.3" y="358.8" text-anchor="end" class="t" font-size="13">0.7</text>
<text x="65.3" y="330.4" text-anchor="end" class="t" font-size="13">0.9</text>
<text x="65.3" y="301.9" text-anchor="end" class="t" font-size="13">1.1</text>
<text x="65.3" y="273.5" text-anchor="end" class="t" font-size="13">1.3</text>
<text x="74.3" y="461.5" text-anchor="middle" class="t" font-size="13">0</text>
<text x="154.4" y="461.5" text-anchor="middle" class="t" font-size="13">5</text>
<text x="234.6" y="461.5" text-anchor="middle" class="t" font-size="13">10</text>
<text x="314.8" y="461.5" text-anchor="middle" class="t" font-size="13">15</text>
<text x="197.0" y="477.2" text-anchor="middle" class="t" font-size="17.5">Time (h)</text>
<text transform="translate(18.5,340.2) rotate(-90)" text-anchor="middle" class="t" font-size="16.5" textLength="119.4" lengthAdjust="spacingAndGlyphs">Growth density</text>
<text transform="translate(37.8,343.1) rotate(-90)" text-anchor="middle" class="t" font-size="16" textLength="76" lengthAdjust="spacingAndGlyphs">(OD<tspan font-size="12">600nm</tspan>)</text>
<text x="0.5" y="265.5" class="t" font-size="26">C</text>
<g stroke="#999" stroke-width="0.8" fill="none"><path d="M447.6 435.9V437.8M445.4 435.9H449.8M445.4 437.8H449.8"/><path d="M455.6 435.6V437.5M453.4 435.6H457.8M453.4 437.5H457.8"/><path d="M463.6 435.3V437.2M461.4 435.3H465.8M461.4 437.2H465.8"/><path d="M471.6 435.0V436.9M469.4 435.0H473.8M469.4 436.9H473.8"/><path d="M479.6 434.7V436.6M477.4 434.7H481.8M477.4 436.6H481.8"/><path d="M487.6 434.4V436.4M485.4 434.4H489.8M485.4 436.4H489.8"/><path d="M495.6 434.2V436.1M493.4 434.2H497.8M493.4 436.1H497.8"/><path d="M503.6 433.9V435.9M501.4 433.9H505.8M501.4 435.9H505.8"/><path d="M511.6 433.7V435.6M509.4 433.7H513.8M509.4 435.6H513.8"/><path d="M519.6 433.4V435.4M517.4 433.4H521.8M517.4 435.4H521.8"/><path d="M527.6 433.2V435.1M525.4 433.2H529.8M525.4 435.1H529.8"/><path d="M535.6 433.0V434.9M533.4 433.0H537.8M533.4 434.9H537.8"/><path d="M543.6 432.7V434.7M541.4 432.7H545.8M541.4 434.7H545.8"/><path d="M551.6 432.5V434.5M549.4 432.5H553.8M549.4 434.5H553.8"/><path d="M559.6 432.3V434.3M557.4 432.3H561.8M557.4 434.3H561.8"/><path d="M567.6 432.1V434.1M565.4 432.1H569.8M565.4 434.1H569.8"/><path d="M575.6 431.9V433.9M573.4 431.9H577.8M573.4 433.9H577.8"/><path d="M583.6 431.7V433.7M581.4 431.7H585.8M581.4 433.7H585.8"/><path d="M591.6 431.6V433.6M589.4 431.6H593.8M589.4 433.6H593.8"/><path d="M599.6 431.5V433.4M597.4 431.5H601.8M597.4 433.4H601.8"/><path d="M607.6 431.4V433.3M605.4 431.4H609.8M605.4 433.3H609.8"/><path d="M615.6 431.2V433.2M613.4 431.2H617.8M613.4 433.2H617.8"/><path d="M623.6 431.1V433.1M621.4 431.1H625.8M621.4 433.1H625.8"/><path d="M631.6 431.0V433.0M629.4 431.0H633.8M629.4 433.0H633.8"/><path d="M639.6 430.9V432.9M637.4 430.9H641.8M637.4 432.9H641.8"/><path d="M647.6 430.8V432.8M645.4 430.8H649.8M645.4 432.8H649.8"/><path d="M655.6 430.7V432.7M653.4 430.7H657.8M653.4 432.7H657.8"/><path d="M663.6 430.7V432.6M661.4 430.7H665.8M661.4 432.6H665.8"/><path d="M671.6 430.6V432.6M669.4 430.6H673.8M669.4 432.6H673.8"/><path d="M679.6 430.6V432.5M677.4 430.6H681.8M677.4 432.5H681.8"/><path d="M687.6 430.5V432.5M685.4 430.5H689.8M685.4 432.5H689.8"/><path d="M695.6 430.5V432.4M693.4 430.5H697.8M693.4 432.4H697.8"/><path d="M447.6 436.6V438.1M445.4 436.6H449.8M445.4 438.1H449.8"/><path d="M455.6 436.4V437.9M453.4 436.4H457.8M453.4 437.9H457.8"/><path d="M463.6 436.3V437.7M461.4 436.3H465.8M461.4 437.7H465.8"/><path d="M471.6 436.1V437.6M469.4 436.1H473.8M469.4 437.6H473.8"/><path d="M479.6 435.9V437.4M477.4 435.9H481.8M477.4 437.4H481.8"/><path d="M487.6 435.8V437.2M485.4 435.8H489.8M485.4 437.2H489.8"/><path d="M495.6 435.6V437.1M493.4 435.6H497.8M493.4 437.1H497.8"/><path d="M503.6 435.4V436.9M501.4 435.4H505.8M501.4 436.9H505.8"/><path d="M511.6 435.3V436.8M509.4 435.3H513.8M509.4 436.8H513.8"/><path d="M519.6 435.1V436.6M517.4 435.1H521.8M517.4 436.6H521.8"/><path d="M527.6 435.0V436.4M525.4 435.0H529.8M525.4 436.4H529.8"/><path d="M535.6 434.8V436.3M533.4 434.8H537.8M533.4 436.3H537.8"/><path d="M543.6 434.7V436.1M541.4 434.7H545.8M541.4 436.1H545.8"/><path d="M551.6 434.5V436.0M549.4 434.5H553.8M549.4 436.0H553.8"/><path d="M559.6 434.3V435.8M557.4 434.3H561.8M557.4 435.8H561.8"/><path d="M567.6 434.2V435.7M565.4 434.2H569.8M565.4 435.7H569.8"/><path d="M575.6 434.0V435.5M573.4 434.0H577.8M573.4 435.5H577.8"/><path d="M583.6 433.9V435.4M581.4 433.9H585.8M581.4 435.4H585.8"/><path d="M591.6 433.8V435.2M589.4 433.8H593.8M589.4 435.2H593.8"/><path d="M599.6 433.7V435.1M597.4 433.7H601.8M597.4 435.1H601.8"/><path d="M607.6 433.6V435.0M605.4 433.6H609.8M605.4 435.0H609.8"/><path d="M615.6 433.5V434.9M613.4 433.5H617.8M613.4 434.9H617.8"/><path d="M623.6 433.4V434.8M621.4 433.4H625.8M621.4 434.8H625.8"/><path d="M631.6 433.3V434.7M629.4 433.3H633.8M629.4 434.7H633.8"/><path d="M639.6 433.2V434.6M637.4 433.2H641.8M637.4 434.6H641.8"/><path d="M647.6 433.1V434.6M645.4 433.1H649.8M645.4 434.6H649.8"/><path d="M655.6 433.0V434.5M653.4 433.0H657.8M653.4 434.5H657.8"/><path d="M663.6 432.9V434.4M661.4 432.9H665.8M661.4 434.4H665.8"/><path d="M671.6 432.9V434.3M669.4 432.9H673.8M669.4 434.3H673.8"/><path d="M679.6 432.8V434.3M677.4 432.8H681.8M677.4 434.3H681.8"/><path d="M687.6 432.7V434.2M685.4 432.7H689.8M685.4 434.2H689.8"/><path d="M695.6 432.7V434.2M693.4 432.7H697.8M693.4 434.2H697.8"/><path d="M447.6 436.1V437.6M445.4 436.1H449.8M445.4 437.6H449.8"/><path d="M455.6 436.0V437.6M453.4 436.0H457.8M453.4 437.6H457.8"/><path d="M463.6 435.9V437.5M461.4 435.9H465.8M461.4 437.5H465.8"/><path d="M471.6 435.8V437.4M469.4 435.8H473.8M469.4 437.4H473.8"/><path d="M479.6 435.6V437.3M477.4 435.6H481.8M477.4 437.3H481.8"/><path d="M487.6 435.4V437.2M485.4 435.4H489.8M485.4 437.2H489.8"/><path d="M495.6 435.2V437.0M493.4 435.2H497.8M493.4 437.0H497.8"/><path d="M503.6 434.9V436.7M501.4 434.9H505.8M501.4 436.7H505.8"/><path d="M511.6 434.5V436.5M509.4 434.5H513.8M509.4 436.5H513.8"/><path d="M519.6 434.2V436.1M517.4 434.2H521.8M517.4 436.1H521.8"/><path d="M527.6 433.0V436.2M525.4 433.0H529.8M525.4 436.2H529.8"/><path d="M535.6 431.6V436.1M533.4 431.6H537.8M533.4 436.1H537.8"/><path d="M543.6 429.9V435.8M541.4 429.9H545.8M541.4 435.8H545.8"/><path d="M551.6 428.1V435.3M549.4 428.1H553.8M549.4 435.3H553.8"/><path d="M559.6 426.2V434.7M557.4 426.2H561.8M557.4 434.7H561.8"/><path d="M567.6 424.1V433.9M565.4 424.1H569.8M565.4 433.9H569.8"/><path d="M575.6 422.2V432.0M573.4 422.2H577.8M573.4 432.0H577.8"/><path d="M583.6 420.2V430.0M581.4 420.2H585.8M581.4 430.0H585.8"/><path d="M591.6 419.0V428.8M589.4 419.0H593.8M589.4 428.8H593.8"/><path d="M599.6 419.0V428.8M597.4 419.0H601.8M597.4 428.8H601.8"/><path d="M607.6 416.8V426.6M605.4 416.8H609.8M605.4 426.6H609.8"/><path d="M615.6 414.1V423.9M613.4 414.1H617.8M613.4 423.9H617.8"/><path d="M623.6 411.4V421.2M621.4 411.4H625.8M621.4 421.2H625.8"/><path d="M631.6 410.7V420.5M629.4 410.7H633.8M629.4 420.5H633.8"/><path d="M639.6 409.2V419.0M637.4 409.2H641.8M637.4 419.0H641.8"/><path d="M647.6 407.0V416.8M645.4 407.0H649.8M645.4 416.8H649.8"/><path d="M655.6 404.4V417.5M653.4 404.4H657.8M653.4 417.5H657.8"/><path d="M663.6 399.9V416.2M661.4 399.9H665.8M661.4 416.2H665.8"/><path d="M671.6 391.1V410.7M669.4 391.1H673.8M669.4 410.7H673.8"/><path d="M679.6 383.8V408.2M677.4 383.8H681.8M677.4 408.2H681.8"/><path d="M687.6 373.3V402.6M685.4 373.3H689.8M685.4 402.6H689.8"/><path d="M695.6 362.8V387.2M693.4 362.8H697.8M693.4 387.2H697.8"/><path d="M447.6 436.1V437.6M445.4 436.1H449.8M445.4 437.6H449.8"/><path d="M455.6 435.8V437.5M453.4 435.8H457.8M453.4 437.5H457.8"/><path d="M463.6 435.3V437.2M461.4 435.3H465.8M461.4 437.2H465.8"/><path d="M471.6 434.6V436.7M469.4 434.6H473.8M469.4 436.7H473.8"/><path d="M479.6 433.3V435.6M477.4 433.3H481.8M477.4 435.6H481.8"/><path d="M487.6 431.2V433.7M485.4 431.2H489.8M485.4 433.7H489.8"/><path d="M495.6 428.8V431.5M493.4 428.8H497.8M493.4 431.5H497.8"/><path d="M503.6 426.3V429.3M501.4 426.3H505.8M501.4 429.3H505.8"/><path d="M511.6 423.2V427.6M509.4 423.2H513.8M509.4 427.6H513.8"/><path d="M519.6 419.9V425.8M517.4 419.9H521.8M517.4 425.8H521.8"/><path d="M527.6 416.6V424.0M525.4 416.6H529.8M525.4 424.0H529.8"/><path d="M535.6 413.6V422.4M533.4 413.6H537.8M533.4 422.4H537.8"/><path d="M543.6 411.2V421.5M541.4 411.2H545.8M541.4 421.5H545.8"/><path d="M551.6 408.5V420.2M549.4 408.5H553.8M549.4 420.2H553.8"/><path d="M559.6 402.9V416.1M557.4 402.9H561.8M557.4 416.1H561.8"/><path d="M567.6 394.8V409.5M565.4 394.8H569.8M565.4 409.5H569.8"/><path d="M575.6 384.4V405.1M573.4 384.4H577.8M573.4 405.1H577.8"/><path d="M583.6 374.5V401.4M581.4 374.5H585.8M581.4 401.4H585.8"/><path d="M591.6 365.9V398.9M589.4 365.9H593.8M589.4 398.9H593.8"/><path d="M599.6 357.9V397.0M597.4 357.9H601.8M597.4 397.0H601.8"/><path d="M607.6 353.3V392.4M605.4 353.3H609.8M605.4 392.4H609.8"/><path d="M615.6 347.1V386.3M613.4 347.1H617.8M613.4 386.3H617.8"/><path d="M623.6 335.9V367.7M621.4 335.9H625.8M621.4 367.7H625.8"/><path d="M631.6 328.8V353.3M629.4 328.8H633.8M629.4 353.3H633.8"/><path d="M639.6 322.1V345.3M637.4 322.1H641.8M637.4 345.3H641.8"/><path d="M647.6 308.8V330.8M645.4 308.8H649.8M645.4 330.8H649.8"/><path d="M655.6 303.1V323.8M653.4 303.1H657.8M653.4 323.8H657.8"/><path d="M663.6 299.5V319.0M661.4 299.5H665.8M661.4 319.0H665.8"/><path d="M671.6 297.1V315.5M669.4 297.1H673.8M669.4 315.5H673.8"/><path d="M679.6 294.8V312.0M677.4 294.8H681.8M677.4 312.0H681.8"/><path d="M687.6 291.2V307.1M685.4 291.2H689.8M685.4 307.1H689.8"/><path d="M695.6 286.5V301.2M693.4 286.5H697.8M693.4 301.2H697.8"/><path d="M447.6 436.1V437.6M445.4 436.1H449.8M445.4 437.6H449.8"/><path d="M455.6 435.3V436.9M453.4 435.3H457.8M453.4 436.9H457.8"/><path d="M463.6 434.7V436.6M461.4 434.7H465.8M461.4 436.6H465.8"/><path d="M471.6 433.1V435.2M469.4 433.1H473.8M469.4 435.2H473.8"/><path d="M479.6 431.0V433.4M477.4 431.0H481.8M477.4 433.4H481.8"/><path d="M487.6 429.2V431.7M485.4 429.2H489.8M485.4 431.7H489.8"/><path d="M495.6 427.2V429.9M493.4 427.2H497.8M493.4 429.9H497.8"/><path d="M503.6 423.4V426.3M501.4 423.4H505.8M501.4 426.3H505.8"/><path d="M511.6 419.3V423.1M509.4 419.3H513.8M509.4 423.1H513.8"/><path d="M519.6 416.2V420.8M517.4 416.2H521.8M517.4 420.8H521.8"/><path d="M527.6 413.8V419.3M525.4 413.8H529.8M525.4 419.3H529.8"/><path d="M535.6 410.4V416.8M533.4 410.4H537.8M533.4 416.8H537.8"/><path d="M543.6 408.3V415.5M541.4 408.3H545.8M541.4 415.5H545.8"/><path d="M551.6 406.9V415.0M549.4 406.9H553.8M549.4 415.0H553.8"/><path d="M559.6 399.9V408.8M557.4 399.9H561.8M557.4 408.8H561.8"/><path d="M567.6 394.3V404.1M565.4 394.3H569.8M565.4 404.1H569.8"/><path d="M575.6 388.6V399.6M573.4 388.6H577.8M573.4 399.6H577.8"/><path d="M583.6 381.1V393.3M581.4 381.1H585.8M581.4 393.3H585.8"/><path d="M591.6 374.4V387.8M589.4 374.4H593.8M589.4 387.8H593.8"/><path d="M599.6 369.4V384.1M597.4 369.4H601.8M597.4 384.1H601.8"/><path d="M607.6 362.5V377.2M605.4 362.5H609.8M605.4 377.2H609.8"/><path d="M615.6 348.1V362.8M613.4 348.1H617.8M613.4 362.8H617.8"/><path d="M623.6 337.6V352.3M621.4 337.6H625.8M621.4 352.3H625.8"/><path d="M631.6 326.1V340.8M629.4 326.1H633.8M629.4 340.8H633.8"/><path d="M639.6 316.7V330.7M637.4 316.7H641.8M637.4 330.7H641.8"/><path d="M647.6 311.1V324.5M645.4 311.1H649.8M645.4 324.5H649.8"/><path d="M655.6 305.8V318.6M653.4 305.8H657.8M653.4 318.6H657.8"/><path d="M663.6 298.3V310.5M661.4 298.3H665.8M661.4 310.5H665.8"/><path d="M671.6 292.7V304.3M669.4 292.7H673.8M669.4 304.3H673.8"/><path d="M679.6 287.4V298.4M677.4 287.4H681.8M677.4 298.4H681.8"/><path d="M687.6 281.8V292.2M685.4 281.8H689.8M685.4 292.2H689.8"/><path d="M695.6 277.5V287.3M693.4 277.5H697.8M693.4 287.3H697.8"/><path d="M447.6 436.1V437.6M445.4 436.1H449.8M445.4 437.6H449.8"/><path d="M455.6 435.0V437.3M453.4 435.0H457.8M453.4 437.3H457.8"/><path d="M463.6 433.6V436.7M461.4 433.6H465.8M461.4 436.7H465.8"/><path d="M471.6 431.9V435.9M469.4 431.9H473.8M469.4 435.9H473.8"/><path d="M479.6 429.8V434.6M477.4 429.8H481.8M477.4 434.6H481.8"/><path d="M487.6 426.7V432.3M485.4 426.7H489.8M485.4 432.3H489.8"/><path d="M495.6 423.3V429.8M493.4 423.3H497.8M493.4 429.8H497.8"/><path d="M503.6 415.6V422.9M501.4 415.6H505.8M501.4 422.9H505.8"/><path d="M511.6 411.9V419.2M509.4 411.9H513.8M509.4 419.2H513.8"/><path d="M519.6 410.0V417.3M517.4 410.0H521.8M517.4 417.3H521.8"/><path d="M527.6 409.2V416.6M525.4 409.2H529.8M525.4 416.6H529.8"/><path d="M535.6 407.3V414.6M533.4 407.3H537.8M533.4 414.6H537.8"/><path d="M543.6 404.0V412.0M541.4 404.0H545.8M541.4 412.0H545.8"/><path d="M551.6 401.0V409.6M549.4 401.0H553.8M549.4 409.6H553.8"/><path d="M559.6 393.9V403.1M557.4 393.9H561.8M557.4 403.1H561.8"/><path d="M567.6 385.3V395.1M565.4 385.3H569.8M565.4 395.1H569.8"/><path d="M575.6 377.2V389.4M573.4 377.2H577.8M573.4 389.4H577.8"/><path d="M583.6 370.9V385.5M581.4 370.9H585.8M581.4 385.5H585.8"/><path d="M591.6 362.8V379.9M589.4 362.8H593.8M589.4 379.9H593.8"/><path d="M599.6 357.9V377.5M597.4 357.9H601.8M597.4 377.5H601.8"/><path d="M607.6 335.1V353.4M605.4 335.1H609.8M605.4 353.4H609.8"/><path d="M615.6 325.9V343.0M613.4 325.9H617.8M613.4 343.0H617.8"/><path d="M623.6 315.7V331.6M621.4 315.7H625.8M621.4 331.6H625.8"/><path d="M631.6 310.2V324.9M629.4 310.2H633.8M629.4 324.9H633.8"/><path d="M639.6 306.2V320.2M637.4 306.2H641.8M637.4 320.2H641.8"/><path d="M647.6 301.6V315.0M645.4 301.6H649.8M645.4 315.0H649.8"/><path d="M655.6 297.0V309.8M653.4 297.0H657.8M653.4 309.8H657.8"/><path d="M663.6 290.7V302.9M661.4 290.7H665.8M661.4 302.9H665.8"/><path d="M671.6 289.0V300.7M669.4 289.0H673.8M669.4 300.7H673.8"/><path d="M679.6 285.4V296.4M677.4 285.4H681.8M677.4 296.4H681.8"/><path d="M687.6 283.8V294.2M685.4 283.8H689.8M685.4 294.2H689.8"/><path d="M695.6 281.2V290.9M693.4 281.2H697.8M693.4 290.9H697.8"/><path d="M447.6 436.1V437.6M445.4 436.1H449.8M445.4 437.6H449.8"/><path d="M455.6 436.0V437.7M453.4 436.0H457.8M453.4 437.7H457.8"/><path d="M463.6 435.2V437.1M461.4 435.2H465.8M461.4 437.1H465.8"/><path d="M471.6 434.1V436.2M469.4 434.1H473.8M469.4 436.2H473.8"/><path d="M479.6 432.0V434.3M477.4 432.0H481.8M477.4 434.3H481.8"/><path d="M487.6 430.2V432.7M485.4 430.2H489.8M485.4 432.7H489.8"/><path d="M495.6 427.2V429.9M493.4 427.2H497.8M493.4 429.9H497.8"/><path d="M503.6 425.1V428.0M501.4 425.1H505.8M501.4 428.0H505.8"/><path d="M511.6 422.0V425.8M509.4 422.0H513.8M509.4 425.8H513.8"/><path d="M519.6 418.9V423.5M517.4 418.9H521.8M517.4 423.5H521.8"/><path d="M527.6 416.5V422.0M525.4 416.5H529.8M525.4 422.0H529.8"/><path d="M535.6 414.1V420.5M533.4 414.1H537.8M533.4 420.5H537.8"/><path d="M543.6 411.0V418.2M541.4 411.0H545.8M541.4 418.2H545.8"/><path d="M551.6 406.9V415.0M549.4 406.9H553.8M549.4 415.0H553.8"/><path d="M559.6 399.9V408.8M557.4 399.9H561.8M557.4 408.8H561.8"/><path d="M567.6 394.3V404.1M565.4 394.3H569.8M565.4 404.1H569.8"/><path d="M575.6 383.9V394.9M573.4 383.9H577.8M573.4 394.9H577.8"/><path d="M583.6 374.3V386.5M581.4 374.3H585.8M581.4 386.5H585.8"/><path d="M591.6 365.4V378.8M589.4 365.4H593.8M589.4 378.8H593.8"/><path d="M599.6 361.1V375.7M597.4 361.1H601.8M597.4 375.7H601.8"/><path d="M607.6 348.9V363.5M605.4 348.9H609.8M605.4 363.5H609.8"/><path d="M615.6 345.2V359.9M613.4 345.2H617.8M613.4 359.9H617.8"/><path d="M623.6 336.9V351.5M621.4 336.9H625.8M621.4 351.5H625.8"/><path d="M631.6 330.0V344.7M629.4 330.0H633.8M629.4 344.7H633.8"/><path d="M639.6 321.7V336.4M637.4 321.7H641.8M637.4 336.4H641.8"/><path d="M647.6 308.8V323.4M645.4 308.8H649.8M645.4 323.4H649.8"/><path d="M655.6 302.9V317.6M653.4 302.9H657.8M653.4 317.6H657.8"/><path d="M663.6 298.0V312.7M661.4 298.0H665.8M661.4 312.7H665.8"/><path d="M671.6 294.1V308.8M669.4 294.1H673.8M669.4 308.8H673.8"/><path d="M679.6 287.5V302.2M677.4 287.5H681.8M677.4 302.2H681.8"/><path d="M687.6 282.4V297.0M685.4 282.4H689.8M685.4 297.0H689.8"/><path d="M695.6 279.7V294.4M693.4 279.7H697.8M693.4 294.4H697.8"/></g>
<path d="M447.6 436.8 L455.6 436.5 L463.6 436.2 L471.6 436.0 L479.6 435.7 L487.6 435.4 L495.6 435.1 L503.6 434.9 L511.6 434.6 L519.6 434.4 L527.6 434.2 L535.6 433.9 L543.6 433.7 L551.6 433.5 L559.6 433.3 L567.6 433.1 L575.6 432.9 L583.6 432.7 L591.6 432.6 L599.6 432.4 L607.6 432.3 L615.6 432.2 L623.6 432.1 L631.6 432.0 L639.6 431.9 L647.6 431.8 L655.6 431.7 L663.6 431.7 L671.6 431.6 L679.6 431.5 L687.6 431.5 L695.6 431.5" stroke="#c9d23a" stroke-width="1.9" fill="none" stroke-linejoin="round" stroke-linecap="round"/>
<path d="M447.6 437.3 L455.6 437.2 L463.6 437.0 L471.6 436.8 L479.6 436.7 L487.6 436.5 L495.6 436.3 L503.6 436.2 L511.6 436.0 L519.6 435.9 L527.6 435.7 L535.6 435.6 L543.6 435.4 L551.6 435.2 L559.6 435.1 L567.6 434.9 L575.6 434.8 L583.6 434.6 L591.6 434.5 L599.6 434.4 L607.6 434.3 L615.6 434.2 L623.6 434.1 L631.6 434.0 L639.6 433.9 L647.6 433.8 L655.6 433.7 L663.6 433.7 L671.6 433.6 L679.6 433.5 L687.6 433.5 L695.6 433.4" stroke="#1f8fa6" stroke-width="1.9" fill="none" stroke-linejoin="round" stroke-linecap="round"/>
<path d="M447.6 436.8 L455.6 436.7 L463.6 436.2 L471.6 435.6 L479.6 434.4 L487.6 432.5 L495.6 430.1 L503.6 427.8 L511.6 425.4 L519.6 422.9 L527.6 420.3 L535.6 418.0 L543.6 416.4 L551.6 414.4 L559.6 409.5 L567.6 402.1 L575.6 394.8 L583.6 388.0 L591.6 382.4 L599.6 377.5 L607.6 372.8 L615.6 366.7 L623.6 351.8 L631.6 341.0 L639.6 333.7 L647.6 319.8 L655.6 313.5 L663.6 309.3 L671.6 306.3 L679.6 303.4 L687.6 299.1 L695.6 293.9" stroke="#f28a8a" stroke-width="1.9" fill="none" stroke-linejoin="round" stroke-linecap="round"/>
<path d="M447.6 436.8 L455.6 436.1 L463.6 435.6 L471.6 434.2 L479.6 432.2 L487.6 430.5 L495.6 428.5 L503.6 424.9 L511.6 421.2 L519.6 418.5 L527.6 416.6 L535.6 413.6 L543.6 411.9 L551.6 410.9 L559.6 404.3 L567.6 399.2 L575.6 394.1 L583.6 387.2 L591.6 381.1 L599.6 376.7 L607.6 369.9 L615.6 355.5 L623.6 345.0 L631.6 333.5 L639.6 323.7 L647.6 317.8 L655.6 312.2 L663.6 304.4 L671.6 298.5 L679.6 292.9 L687.6 287.0 L695.6 282.4" stroke="#25b22a" stroke-width="1.9" fill="none" stroke-linejoin="round" stroke-linecap="round"/>
<path d="M447.6 436.8 L455.6 436.1 L463.6 435.1 L471.6 433.9 L479.6 432.2 L487.6 429.5 L495.6 426.6 L503.6 419.2 L511.6 415.6 L519.6 413.6 L527.6 412.9 L535.6 410.9 L543.6 408.0 L551.6 405.3 L559.6 398.5 L567.6 390.2 L575.6 383.3 L583.6 378.2 L591.6 371.3 L599.6 367.7 L607.6 344.2 L615.6 334.4 L623.6 323.7 L631.6 317.6 L639.6 313.2 L647.6 308.3 L655.6 303.4 L663.6 296.8 L671.6 294.8 L679.6 290.9 L687.6 289.0 L695.6 286.0" stroke="#7b80e6" stroke-width="1.9" fill="none" stroke-linejoin="round" stroke-linecap="round"/>
<path d="M447.6 436.8 L455.6 436.8 L463.6 436.1 L471.6 435.1 L479.6 433.2 L487.6 431.5 L495.6 428.5 L503.6 426.6 L511.6 423.9 L519.6 421.2 L527.6 419.2 L535.6 417.3 L543.6 414.6 L551.6 410.9 L559.6 404.3 L567.6 399.2 L575.6 389.4 L583.6 380.4 L591.6 372.1 L599.6 368.4 L607.6 356.2 L615.6 352.5 L623.6 344.2 L631.6 337.4 L639.6 329.1 L647.6 316.1 L655.6 310.2 L663.6 305.4 L671.6 301.4 L679.6 294.8 L687.6 289.7 L695.6 287.0" stroke="#e3262c" stroke-width="1.9" fill="none" stroke-linejoin="round" stroke-linecap="round"/>
<path d="M447.6 436.8 L455.6 436.8 L463.6 436.7 L471.6 436.6 L479.6 436.5 L487.6 436.3 L495.6 436.1 L503.6 435.8 L511.6 435.5 L519.6 435.1 L527.6 434.6 L535.6 433.8 L543.6 432.9 L551.6 431.7 L559.6 430.4 L567.6 429.0 L575.6 427.1 L583.6 425.1 L591.6 423.9 L599.6 423.9 L607.6 421.7 L615.6 419.0 L623.6 416.3 L631.6 415.6 L639.6 414.1 L647.6 411.9 L655.6 410.9 L663.6 408.0 L671.6 400.9 L679.6 396.0 L687.6 388.0 L695.6 375.0" stroke="#cf7ee6" stroke-width="1.9" fill="none" stroke-linejoin="round" stroke-linecap="round"/>
<path d="M439.6 266.7V446.8M438.6 438.8H697.0" stroke="#000" stroke-width="2" fill="none"/>
<path d="M432.6 438.8H439.6M432.6 414.4H439.6M432.6 389.9H439.6M432.6 365.5H439.6M432.6 341.0H439.6M432.6 316.6H439.6M432.6 292.2H439.6M432.6 267.7H439.6M519.6 438.8V445.8M599.6 438.8V445.8M679.6 438.8V445.8M479.6 438.8V443.3M559.6 438.8V443.3M639.6 438.8V443.3" stroke="#000" stroke-width="2" fill="none"/>
<text x="430.6" y="443.0" text-anchor="end" class="t" font-size="13.5">0.1</text>
<text x="430.6" y="418.6" text-anchor="end" class="t" font-size="13.5">0.2</text>
<text x="430.6" y="394.1" text-anchor="end" class="t" font-size="13.5">0.3</text>
<text x="430.6" y="369.7" text-anchor="end" class="t" font-size="13.5">0.4</text>
<text x="430.6" y="345.2" text-anchor="end" class="t" font-size="13.5">0.5</text>
<text x="430.6" y="320.8" text-anchor="end" class="t" font-size="13.5">0.6</text>
<text x="430.6" y="296.4" text-anchor="end" class="t" font-size="13.5">0.7</text>
<text x="430.6" y="271.9" text-anchor="end" class="t" font-size="13.5">0.8</text>
<text x="439.6" y="460.3" text-anchor="middle" class="t" font-size="13.5">0</text>
<text x="519.6" y="460.3" text-anchor="middle" class="t" font-size="13.5">5</text>
<text x="599.6" y="460.3" text-anchor="middle" class="t" font-size="13.5">10</text>
<text x="679.6" y="460.3" text-anchor="middle" class="t" font-size="13.5">15</text>
<text x="565.5" y="476.4" text-anchor="middle" class="t" font-size="17.5">Time (h)</text>
<text transform="translate(382.5,339.2) rotate(-90)" text-anchor="middle" class="t" font-size="16.5" textLength="119" lengthAdjust="spacingAndGlyphs">Growth density</text>
<text transform="translate(402.5,342.4) rotate(-90)" text-anchor="middle" class="t" font-size="16" textLength="76.4" lengthAdjust="spacingAndGlyphs">(OD<tspan font-size="12">600nm</tspan>)</text>
<text x="364" y="265.5" class="t" font-size="26">D</text>
<path d="M2.5 497.1H19.5" stroke="#e3262c" stroke-width="1.6"/>
<text x="23.3" y="501.7" class="r" font-size="13.5">Nov only</text>
<path d="M90.0 497.1H107.0" stroke="#7b80e6" stroke-width="1.6"/>
<text x="110.8" y="501.7" class="r" font-size="13.5">Nov+CASP(0.1 mg/ml)</text>
<path d="M261.0 497.1H278.0" stroke="#25b22a" stroke-width="1.6"/>
<text x="281.8" y="501.7" class="r" font-size="13.5">Nov+CASP(0.2 mg/ml)</text>
<path d="M430.5 497.1H447.5" stroke="#f28a8a" stroke-width="1.6"/>
<text x="451.3" y="501.7" class="r" font-size="13.5">Nov+CASP(0.5 mg/ml)</text>
<path d="M2.0 522.8H19.0" stroke="#cf7ee6" stroke-width="1.6"/>
<text x="22.8" y="527.4" class="r" font-size="13.5">Nov+CASP(1.0 mg/ml)</text>
<path d="M173.5 522.8H190.5" stroke="#1f8fa6" stroke-width="1.6"/>
<text x="194.3" y="527.4" class="r" font-size="13.5">Nov+CASP(1.5 mg/ml)</text>
<path d="M342.5 522.8H359.5" stroke="#c9d23a" stroke-width="1.6"/>
<text x="363.3" y="527.4" class="r" font-size="13.5">Nov+CASP(2.0 mg/ml)</text>
</svg></body></html>
